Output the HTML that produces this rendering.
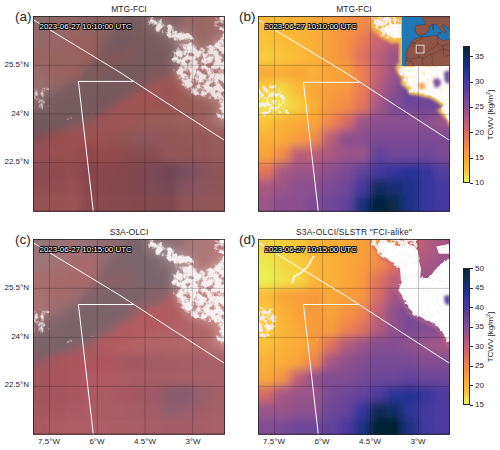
<!DOCTYPE html>
<html><head><meta charset="utf-8">
<style>
html,body{margin:0;padding:0;background:#fff;}
body{width:500px;height:450px;position:relative;overflow:hidden;font-family:"Liberation Sans",sans-serif;color:#262626;}
.t{position:absolute;white-space:nowrap;line-height:1;}
.title{font-size:8.5px;transform:translateX(-50%);}
.lbl{font-size:13.5px;}
.yt{font-size:8px;text-align:right;width:40px;}
.xt{font-size:8px;transform:translateX(-50%);}
.ct{position:absolute;font-size:8px;line-height:1;left:475px;}
.tk{position:absolute;left:470px;width:3px;height:0.8px;background:#262626;}
.pn{position:absolute;overflow:hidden;}
.ts{position:absolute;font-size:7.95px;color:#fff;white-space:nowrap;line-height:1;
 text-shadow:-0.8px 0 0 #000,0.8px 0 0 #000,0 -0.8px 0 #000,0 0.8px 0 #000,-0.8px -0.8px 0 #000,0.8px 0.8px 0 #000,-0.8px 0.8px 0 #000,0.8px -0.8px 0 #000;}
.cb{position:absolute;left:463px;width:7px;box-sizing:border-box;border:0.8px solid #262626;}
.cbl{position:absolute;font-size:8px;line-height:1;white-space:nowrap;transform:translate(-50%,-50%) rotate(-90deg);}
</style></head><body>
<div class="t title" style="left:129px;top:5px">MTG-FCI</div>
<div class="t title" style="left:354px;top:5px">MTG-FCI</div>
<div class="t title" style="left:129px;top:228px">S3A-OLCI</div>
<div class="t title" style="left:354px;top:228px;letter-spacing:0.2px">S3A-OLCI/SLSTR "FCI-alike"</div>
<div class="t lbl" style="left:15px;top:10px">(a)</div>
<div class="t lbl" style="left:239px;top:10px">(b)</div>
<div class="t lbl" style="left:15px;top:233px">(c)</div>
<div class="t lbl" style="left:239px;top:233px">(d)</div>

<div class="t yt" style="left:-11px;top:61px">25.5°N</div>
<div class="t yt" style="left:-11px;top:110px">24°N</div>
<div class="t yt" style="left:-11px;top:158px">22.5°N</div>
<div class="t yt" style="left:-11px;top:284px">25.5°N</div>
<div class="t yt" style="left:-11px;top:333px">24°N</div>
<div class="t yt" style="left:-11px;top:381px">22.5°N</div>
<div class="t xt" style="left:49px;top:438px">7.5°W</div>
<div class="t xt" style="left:97px;top:438px">6°W</div>
<div class="t xt" style="left:145px;top:438px">4.5°W</div>
<div class="t xt" style="left:193px;top:438px">3°W</div>
<div class="t xt" style="left:274px;top:438px">7.5°W</div>
<div class="t xt" style="left:322px;top:438px">6°W</div>
<div class="t xt" style="left:370px;top:438px">4.5°W</div>
<div class="t xt" style="left:418px;top:438px">3°W</div>

<svg class="pn" style="left:33px;top:16px" width="192.0" height="195.5" viewBox="0 0 192.0 195.5"><filter id="fa" x="-20%" y="-20%" width="140%" height="140%"><feGaussianBlur stdDeviation="4.5"/></filter>
<g filter="url(#fa)">
<rect x="-16.00" y="-16.29" width="16.60" height="16.89" fill="#8d6969"/>
<rect x="0.00" y="-16.29" width="16.60" height="16.89" fill="#8d6969"/>
<rect x="16.00" y="-16.29" width="16.60" height="16.89" fill="#8f6767"/>
<rect x="32.00" y="-16.29" width="16.60" height="16.89" fill="#936565"/>
<rect x="48.00" y="-16.29" width="16.60" height="16.89" fill="#896565"/>
<rect x="64.00" y="-16.29" width="16.60" height="16.89" fill="#86625f"/>
<rect x="80.00" y="-16.29" width="16.60" height="16.89" fill="#7e5e60"/>
<rect x="96.00" y="-16.29" width="16.60" height="16.89" fill="#816363"/>
<rect x="112.00" y="-16.29" width="16.60" height="16.89" fill="#896767"/>
<rect x="128.00" y="-16.29" width="16.60" height="16.89" fill="#936969"/>
<rect x="144.00" y="-16.29" width="16.60" height="16.89" fill="#996b6b"/>
<rect x="160.00" y="-16.29" width="16.60" height="16.89" fill="#996763"/>
<rect x="176.00" y="-16.29" width="16.60" height="16.89" fill="#9d6b67"/>
<rect x="192.00" y="-16.29" width="16.60" height="16.89" fill="#9d6b67"/>
<rect x="-16.00" y="0.00" width="16.60" height="16.89" fill="#8d6969"/>
<rect x="0.00" y="0.00" width="16.60" height="16.89" fill="#8d6969"/>
<rect x="16.00" y="0.00" width="16.60" height="16.89" fill="#8f6767"/>
<rect x="32.00" y="0.00" width="16.60" height="16.89" fill="#936565"/>
<rect x="48.00" y="0.00" width="16.60" height="16.89" fill="#896565"/>
<rect x="64.00" y="0.00" width="16.60" height="16.89" fill="#86625f"/>
<rect x="80.00" y="0.00" width="16.60" height="16.89" fill="#7e5e60"/>
<rect x="96.00" y="0.00" width="16.60" height="16.89" fill="#816363"/>
<rect x="112.00" y="0.00" width="16.60" height="16.89" fill="#896767"/>
<rect x="128.00" y="0.00" width="16.60" height="16.89" fill="#936969"/>
<rect x="144.00" y="0.00" width="16.60" height="16.89" fill="#996b6b"/>
<rect x="160.00" y="0.00" width="16.60" height="16.89" fill="#996763"/>
<rect x="176.00" y="0.00" width="16.60" height="16.89" fill="#9d6b67"/>
<rect x="192.00" y="0.00" width="16.60" height="16.89" fill="#9d6b67"/>
<rect x="-16.00" y="16.29" width="16.60" height="16.89" fill="#936767"/>
<rect x="0.00" y="16.29" width="16.60" height="16.89" fill="#936767"/>
<rect x="16.00" y="16.29" width="16.60" height="16.89" fill="#976565"/>
<rect x="32.00" y="16.29" width="16.60" height="16.89" fill="#99615d"/>
<rect x="48.00" y="16.29" width="16.60" height="16.89" fill="#9b5f5b"/>
<rect x="64.00" y="16.29" width="16.60" height="16.89" fill="#84605e"/>
<rect x="80.00" y="16.29" width="16.60" height="16.89" fill="#7c5c5e"/>
<rect x="96.00" y="16.29" width="16.60" height="16.89" fill="#7d5f5f"/>
<rect x="112.00" y="16.29" width="16.60" height="16.89" fill="#816363"/>
<rect x="128.00" y="16.29" width="16.60" height="16.89" fill="#8b6767"/>
<rect x="144.00" y="16.29" width="16.60" height="16.89" fill="#976b6b"/>
<rect x="160.00" y="16.29" width="16.60" height="16.89" fill="#996763"/>
<rect x="176.00" y="16.29" width="16.60" height="16.89" fill="#9d6965"/>
<rect x="192.00" y="16.29" width="16.60" height="16.89" fill="#9d6965"/>
<rect x="-16.00" y="32.58" width="16.60" height="16.89" fill="#996561"/>
<rect x="0.00" y="32.58" width="16.60" height="16.89" fill="#996561"/>
<rect x="16.00" y="32.58" width="16.60" height="16.89" fill="#99635f"/>
<rect x="32.00" y="32.58" width="16.60" height="16.89" fill="#976363"/>
<rect x="48.00" y="32.58" width="16.60" height="16.89" fill="#995f5b"/>
<rect x="64.00" y="32.58" width="16.60" height="16.89" fill="#8a5c5a"/>
<rect x="80.00" y="32.58" width="16.60" height="16.89" fill="#8a5a58"/>
<rect x="96.00" y="32.58" width="16.60" height="16.89" fill="#875f5f"/>
<rect x="112.00" y="32.58" width="16.60" height="16.89" fill="#7d5f5f"/>
<rect x="128.00" y="32.58" width="16.60" height="16.89" fill="#7f6161"/>
<rect x="144.00" y="32.58" width="16.60" height="16.89" fill="#8d6565"/>
<rect x="160.00" y="32.58" width="16.60" height="16.89" fill="#996763"/>
<rect x="176.00" y="32.58" width="16.60" height="16.89" fill="#9b6763"/>
<rect x="192.00" y="32.58" width="16.60" height="16.89" fill="#9b6763"/>
<rect x="-16.00" y="48.88" width="16.60" height="16.89" fill="#996b6b"/>
<rect x="0.00" y="48.88" width="16.60" height="16.89" fill="#996b6b"/>
<rect x="16.00" y="48.88" width="16.60" height="16.89" fill="#99635f"/>
<rect x="32.00" y="48.88" width="16.60" height="16.89" fill="#99615d"/>
<rect x="48.00" y="48.88" width="16.60" height="16.89" fill="#896161"/>
<rect x="64.00" y="48.88" width="16.60" height="16.89" fill="#835f5f"/>
<rect x="80.00" y="48.88" width="16.60" height="16.89" fill="#7d5d5d"/>
<rect x="96.00" y="48.88" width="16.60" height="16.89" fill="#7d5d5d"/>
<rect x="112.00" y="48.88" width="16.60" height="16.89" fill="#8f5b5b"/>
<rect x="128.00" y="48.88" width="16.60" height="16.89" fill="#995955"/>
<rect x="144.00" y="48.88" width="16.60" height="16.89" fill="#995f5b"/>
<rect x="160.00" y="48.88" width="16.60" height="16.89" fill="#99635f"/>
<rect x="176.00" y="48.88" width="16.60" height="16.89" fill="#99635f"/>
<rect x="192.00" y="48.88" width="16.60" height="16.89" fill="#99635f"/>
<rect x="-16.00" y="65.17" width="16.60" height="16.89" fill="#996f6f"/>
<rect x="0.00" y="65.17" width="16.60" height="16.89" fill="#996f6f"/>
<rect x="16.00" y="65.17" width="16.60" height="16.89" fill="#8d6565"/>
<rect x="32.00" y="65.17" width="16.60" height="16.89" fill="#836161"/>
<rect x="48.00" y="65.17" width="16.60" height="16.89" fill="#7d5f5f"/>
<rect x="64.00" y="65.17" width="16.60" height="16.89" fill="#795d5d"/>
<rect x="80.00" y="65.17" width="16.60" height="16.89" fill="#7d5b5b"/>
<rect x="96.00" y="65.17" width="16.60" height="16.89" fill="#995753"/>
<rect x="112.00" y="65.17" width="16.60" height="16.89" fill="#a15955"/>
<rect x="128.00" y="65.17" width="16.60" height="16.89" fill="#9d5753"/>
<rect x="144.00" y="65.17" width="16.60" height="16.89" fill="#995955"/>
<rect x="160.00" y="65.17" width="16.60" height="16.89" fill="#995f5b"/>
<rect x="176.00" y="65.17" width="16.60" height="16.89" fill="#99635f"/>
<rect x="192.00" y="65.17" width="16.60" height="16.89" fill="#99635f"/>
<rect x="-16.00" y="81.46" width="16.60" height="16.89" fill="#8f6b6b"/>
<rect x="0.00" y="81.46" width="16.60" height="16.89" fill="#8f6b6b"/>
<rect x="16.00" y="81.46" width="16.60" height="16.89" fill="#7f6161"/>
<rect x="32.00" y="81.46" width="16.60" height="16.89" fill="#795f5f"/>
<rect x="48.00" y="81.46" width="16.60" height="16.89" fill="#795d5d"/>
<rect x="64.00" y="81.46" width="16.60" height="16.89" fill="#85595b"/>
<rect x="80.00" y="81.46" width="16.60" height="16.89" fill="#995753"/>
<rect x="96.00" y="81.46" width="16.60" height="16.89" fill="#9f5753"/>
<rect x="112.00" y="81.46" width="16.60" height="16.89" fill="#9d5753"/>
<rect x="128.00" y="81.46" width="16.60" height="16.89" fill="#995755"/>
<rect x="144.00" y="81.46" width="16.60" height="16.89" fill="#995b57"/>
<rect x="160.00" y="81.46" width="16.60" height="16.89" fill="#995f5b"/>
<rect x="176.00" y="81.46" width="16.60" height="16.89" fill="#9d615d"/>
<rect x="192.00" y="81.46" width="16.60" height="16.89" fill="#9d615d"/>
<rect x="-16.00" y="97.75" width="16.60" height="16.89" fill="#735b5d"/>
<rect x="0.00" y="97.75" width="16.60" height="16.89" fill="#735b5d"/>
<rect x="16.00" y="97.75" width="16.60" height="16.89" fill="#795b5d"/>
<rect x="32.00" y="97.75" width="16.60" height="16.89" fill="#7d5d5f"/>
<rect x="48.00" y="97.75" width="16.60" height="16.89" fill="#83595b"/>
<rect x="64.00" y="97.75" width="16.60" height="16.89" fill="#995753"/>
<rect x="80.00" y="97.75" width="16.60" height="16.89" fill="#9d5955"/>
<rect x="96.00" y="97.75" width="16.60" height="16.89" fill="#995955"/>
<rect x="112.00" y="97.75" width="16.60" height="16.89" fill="#995b57"/>
<rect x="128.00" y="97.75" width="16.60" height="16.89" fill="#995d59"/>
<rect x="144.00" y="97.75" width="16.60" height="16.89" fill="#9b5f5b"/>
<rect x="160.00" y="97.75" width="16.60" height="16.89" fill="#9d615d"/>
<rect x="176.00" y="97.75" width="16.60" height="16.89" fill="#a16965"/>
<rect x="192.00" y="97.75" width="16.60" height="16.89" fill="#a16965"/>
<rect x="-16.00" y="114.04" width="16.60" height="16.89" fill="#824f55"/>
<rect x="0.00" y="114.04" width="16.60" height="16.89" fill="#824f55"/>
<rect x="16.00" y="114.04" width="16.60" height="16.89" fill="#924d4d"/>
<rect x="32.00" y="114.04" width="16.60" height="16.89" fill="#9a4f4f"/>
<rect x="48.00" y="114.04" width="16.60" height="16.89" fill="#9c4f4f"/>
<rect x="64.00" y="114.04" width="16.60" height="16.89" fill="#985151"/>
<rect x="80.00" y="114.04" width="16.60" height="16.89" fill="#925353"/>
<rect x="96.00" y="114.04" width="16.60" height="16.89" fill="#8e575d"/>
<rect x="112.00" y="114.04" width="16.60" height="16.89" fill="#90575d"/>
<rect x="128.00" y="114.04" width="16.60" height="16.89" fill="#925757"/>
<rect x="144.00" y="114.04" width="16.60" height="16.89" fill="#925959"/>
<rect x="160.00" y="114.04" width="16.60" height="16.89" fill="#945959"/>
<rect x="176.00" y="114.04" width="16.60" height="16.89" fill="#965b5b"/>
<rect x="192.00" y="114.04" width="16.60" height="16.89" fill="#965b5b"/>
<rect x="-16.00" y="130.33" width="16.60" height="16.89" fill="#8c4f55"/>
<rect x="0.00" y="130.33" width="16.60" height="16.89" fill="#8c4f55"/>
<rect x="16.00" y="130.33" width="16.60" height="16.89" fill="#964f4f"/>
<rect x="32.00" y="130.33" width="16.60" height="16.89" fill="#984f51"/>
<rect x="48.00" y="130.33" width="16.60" height="16.89" fill="#92474b"/>
<rect x="64.00" y="130.33" width="16.60" height="16.89" fill="#964b4d"/>
<rect x="80.00" y="130.33" width="16.60" height="16.89" fill="#904b4d"/>
<rect x="96.00" y="130.33" width="16.60" height="16.89" fill="#884d51"/>
<rect x="112.00" y="130.33" width="16.60" height="16.89" fill="#884d51"/>
<rect x="128.00" y="130.33" width="16.60" height="16.89" fill="#925759"/>
<rect x="144.00" y="130.33" width="16.60" height="16.89" fill="#925759"/>
<rect x="160.00" y="130.33" width="16.60" height="16.89" fill="#945959"/>
<rect x="176.00" y="130.33" width="16.60" height="16.89" fill="#965b5b"/>
<rect x="192.00" y="130.33" width="16.60" height="16.89" fill="#965b5b"/>
<rect x="-16.00" y="146.62" width="16.60" height="16.89" fill="#8a4d55"/>
<rect x="0.00" y="146.62" width="16.60" height="16.89" fill="#8a4d55"/>
<rect x="16.00" y="146.62" width="16.60" height="16.89" fill="#8e4b4f"/>
<rect x="32.00" y="146.62" width="16.60" height="16.89" fill="#924d51"/>
<rect x="48.00" y="146.62" width="16.60" height="16.89" fill="#86454b"/>
<rect x="64.00" y="146.62" width="16.60" height="16.89" fill="#88474d"/>
<rect x="80.00" y="146.62" width="16.60" height="16.89" fill="#84474d"/>
<rect x="96.00" y="146.62" width="16.60" height="16.89" fill="#80474f"/>
<rect x="112.00" y="146.62" width="16.60" height="16.89" fill="#7c4957"/>
<rect x="128.00" y="146.62" width="16.60" height="16.89" fill="#704555"/>
<rect x="144.00" y="146.62" width="16.60" height="16.89" fill="#784f5f"/>
<rect x="160.00" y="146.62" width="16.60" height="16.89" fill="#84535d"/>
<rect x="176.00" y="146.62" width="16.60" height="16.89" fill="#8e5357"/>
<rect x="192.00" y="146.62" width="16.60" height="16.89" fill="#8e5357"/>
<rect x="-16.00" y="162.92" width="16.60" height="16.89" fill="#904d51"/>
<rect x="0.00" y="162.92" width="16.60" height="16.89" fill="#904d51"/>
<rect x="16.00" y="162.92" width="16.60" height="16.89" fill="#924d51"/>
<rect x="32.00" y="162.92" width="16.60" height="16.89" fill="#964f53"/>
<rect x="48.00" y="162.92" width="16.60" height="16.89" fill="#8a474d"/>
<rect x="64.00" y="162.92" width="16.60" height="16.89" fill="#86474d"/>
<rect x="80.00" y="162.92" width="16.60" height="16.89" fill="#84474d"/>
<rect x="96.00" y="162.92" width="16.60" height="16.89" fill="#80474f"/>
<rect x="112.00" y="162.92" width="16.60" height="16.89" fill="#7c4957"/>
<rect x="128.00" y="162.92" width="16.60" height="16.89" fill="#744957"/>
<rect x="144.00" y="162.92" width="16.60" height="16.89" fill="#84535f"/>
<rect x="160.00" y="162.92" width="16.60" height="16.89" fill="#8a555f"/>
<rect x="176.00" y="162.92" width="16.60" height="16.89" fill="#8e5559"/>
<rect x="192.00" y="162.92" width="16.60" height="16.89" fill="#8e5559"/>
<rect x="-16.00" y="179.21" width="16.60" height="16.89" fill="#965153"/>
<rect x="0.00" y="179.21" width="16.60" height="16.89" fill="#965153"/>
<rect x="16.00" y="179.21" width="16.60" height="16.89" fill="#985153"/>
<rect x="32.00" y="179.21" width="16.60" height="16.89" fill="#9a5355"/>
<rect x="48.00" y="179.21" width="16.60" height="16.89" fill="#8a494f"/>
<rect x="64.00" y="179.21" width="16.60" height="16.89" fill="#88494f"/>
<rect x="80.00" y="179.21" width="16.60" height="16.89" fill="#86494f"/>
<rect x="96.00" y="179.21" width="16.60" height="16.89" fill="#84494f"/>
<rect x="112.00" y="179.21" width="16.60" height="16.89" fill="#82494f"/>
<rect x="128.00" y="179.21" width="16.60" height="16.89" fill="#80494f"/>
<rect x="144.00" y="179.21" width="16.60" height="16.89" fill="#8e5357"/>
<rect x="160.00" y="179.21" width="16.60" height="16.89" fill="#905559"/>
<rect x="176.00" y="179.21" width="16.60" height="16.89" fill="#925759"/>
<rect x="192.00" y="179.21" width="16.60" height="16.89" fill="#925759"/>
<rect x="-16.00" y="195.50" width="16.60" height="16.89" fill="#965153"/>
<rect x="0.00" y="195.50" width="16.60" height="16.89" fill="#965153"/>
<rect x="16.00" y="195.50" width="16.60" height="16.89" fill="#985153"/>
<rect x="32.00" y="195.50" width="16.60" height="16.89" fill="#9a5355"/>
<rect x="48.00" y="195.50" width="16.60" height="16.89" fill="#8a494f"/>
<rect x="64.00" y="195.50" width="16.60" height="16.89" fill="#88494f"/>
<rect x="80.00" y="195.50" width="16.60" height="16.89" fill="#86494f"/>
<rect x="96.00" y="195.50" width="16.60" height="16.89" fill="#84494f"/>
<rect x="112.00" y="195.50" width="16.60" height="16.89" fill="#82494f"/>
<rect x="128.00" y="195.50" width="16.60" height="16.89" fill="#80494f"/>
<rect x="144.00" y="195.50" width="16.60" height="16.89" fill="#8e5357"/>
<rect x="160.00" y="195.50" width="16.60" height="16.89" fill="#905559"/>
<rect x="176.00" y="195.50" width="16.60" height="16.89" fill="#925759"/>
<rect x="192.00" y="195.50" width="16.60" height="16.89" fill="#925759"/>
</g><filter id="bda" x="-20%" y="-20%" width="140%" height="140%"><feGaussianBlur stdDeviation="3"/></filter><g filter="url(#bda)"><polygon points="0,84 25,76 45,64 60,44 75,24 88,8 95,-2 150,-2 145,15 142,30 150,40 143,56 120,68 100,78 80,90 60,100 30,112 0,124" fill="#6e585c" fill-opacity="0.5"/><polygon points="58,60 80,40 100,26 118,14 123,19 104,33 84,47 62,65" fill="#925250" fill-opacity="0.25"/><polygon points="0,126 30,114 60,102 80,92 100,80 120,70 143,58 160,50 185,42 190,55 150,78 120,93 60,122 30,136 0,150" fill="#a05054" fill-opacity="0.4"/></g><filter id="cla" x="-5%" y="-5%" width="110%" height="110%"><feGaussianBlur stdDeviation="0.6"/></filter>
<filter id="spa1" filterUnits="userSpaceOnUse" x="0" y="0" width="192" height="196" color-interpolation-filters="sRGB"><feTurbulence type="fractalNoise" baseFrequency="0.17" numOctaves="3" seed="3" result="n0"/><feColorMatrix in="n0" type="matrix" values="0 0 0 0 1 0 0 0 0 1 0 0 0 0 1 1 0 0 0 0" result="n"/><feGaussianBlur in="SourceGraphic" stdDeviation="2.5" result="m"/><feComposite in="n" in2="m" operator="arithmetic" k1="0" k2="1" k3="1" k4="-1" result="s"/><feComponentTransfer in="s" result="t"><feFuncA type="linear" slope="4.5" intercept="-2.453"/></feComponentTransfer><feColorMatrix in="t" type="matrix" values="0 0 0 0 0.97 0 0 0 0 0.94 0 0 0 0 0.94 0 0 0 1 0" result="w"/><feGaussianBlur in="w" stdDeviation="0.7"/></filter>
<filter id="spa2" filterUnits="userSpaceOnUse" x="0" y="0" width="192" height="196" color-interpolation-filters="sRGB"><feTurbulence type="fractalNoise" baseFrequency="0.17" numOctaves="3" seed="3" result="n0"/><feColorMatrix in="n0" type="matrix" values="0 0 0 0 1 0 0 0 0 1 0 0 0 0 1 1 0 0 0 0" result="n"/><feGaussianBlur in="SourceGraphic" stdDeviation="2.5" result="m"/><feComposite in="n" in2="m" operator="arithmetic" k1="0" k2="1" k3="1" k4="-1" result="s"/><feComponentTransfer in="s" result="t"><feFuncA type="linear" slope="4.5" intercept="-2.312"/></feComponentTransfer><feColorMatrix in="t" type="matrix" values="0 0 0 0 0.97 0 0 0 0 0.94 0 0 0 0 0.94 0 0 0 1 0" result="w"/><feGaussianBlur in="w" stdDeviation="0.7"/></filter>
<filter id="spa3" filterUnits="userSpaceOnUse" x="0" y="0" width="192" height="196" color-interpolation-filters="sRGB"><feTurbulence type="fractalNoise" baseFrequency="0.17" numOctaves="3" seed="3" result="n0"/><feColorMatrix in="n0" type="matrix" values="0 0 0 0 1 0 0 0 0 1 0 0 0 0 1 1 0 0 0 0" result="n"/><feGaussianBlur in="SourceGraphic" stdDeviation="2.5" result="m"/><feComposite in="n" in2="m" operator="arithmetic" k1="0" k2="1" k3="1" k4="-1" result="s"/><feComponentTransfer in="s" result="t"><feFuncA type="linear" slope="4.5" intercept="-2.172"/></feComponentTransfer><feColorMatrix in="t" type="matrix" values="0 0 0 0 0.97 0 0 0 0 0.94 0 0 0 0 0.94 0 0 0 1 0" result="w"/><feGaussianBlur in="w" stdDeviation="0.7"/></filter>
<filter id="spa4" filterUnits="userSpaceOnUse" x="0" y="0" width="192" height="196" color-interpolation-filters="sRGB"><feTurbulence type="fractalNoise" baseFrequency="0.17" numOctaves="3" seed="3" result="n0"/><feColorMatrix in="n0" type="matrix" values="0 0 0 0 1 0 0 0 0 1 0 0 0 0 1 1 0 0 0 0" result="n"/><feGaussianBlur in="SourceGraphic" stdDeviation="2.5" result="m"/><feComposite in="n" in2="m" operator="arithmetic" k1="0" k2="1" k3="1" k4="-1" result="s"/><feComponentTransfer in="s" result="t"><feFuncA type="linear" slope="4.5" intercept="-2.031"/></feComponentTransfer><feColorMatrix in="t" type="matrix" values="0 0 0 0 0.97 0 0 0 0 0.94 0 0 0 0 0.94 0 0 0 1 0" result="w"/><feGaussianBlur in="w" stdDeviation="0.7"/></filter>
<filter id="spa5" filterUnits="userSpaceOnUse" x="0" y="0" width="192" height="196" color-interpolation-filters="sRGB"><feTurbulence type="fractalNoise" baseFrequency="0.17" numOctaves="3" seed="3" result="n0"/><feColorMatrix in="n0" type="matrix" values="0 0 0 0 1 0 0 0 0 1 0 0 0 0 1 1 0 0 0 0" result="n"/><feGaussianBlur in="SourceGraphic" stdDeviation="2.5" result="m"/><feComposite in="n" in2="m" operator="arithmetic" k1="0" k2="1" k3="1" k4="-1" result="s"/><feComponentTransfer in="s" result="t"><feFuncA type="linear" slope="4.5" intercept="-1.891"/></feComponentTransfer><feColorMatrix in="t" type="matrix" values="0 0 0 0 0.97 0 0 0 0 0.94 0 0 0 0 0.94 0 0 0 1 0" result="w"/><feGaussianBlur in="w" stdDeviation="0.7"/></filter>
<filter id="spa6" filterUnits="userSpaceOnUse" x="0" y="0" width="192" height="196" color-interpolation-filters="sRGB"><feTurbulence type="fractalNoise" baseFrequency="0.17" numOctaves="3" seed="3" result="n0"/><feColorMatrix in="n0" type="matrix" values="0 0 0 0 1 0 0 0 0 1 0 0 0 0 1 1 0 0 0 0" result="n"/><feGaussianBlur in="SourceGraphic" stdDeviation="2.5" result="m"/><feComposite in="n" in2="m" operator="arithmetic" k1="0" k2="1" k3="1" k4="-1" result="s"/><feComponentTransfer in="s" result="t"><feFuncA type="linear" slope="4.5" intercept="-1.750"/></feComponentTransfer><feColorMatrix in="t" type="matrix" values="0 0 0 0 0.97 0 0 0 0 0.94 0 0 0 0 0.94 0 0 0 1 0" result="w"/><feGaussianBlur in="w" stdDeviation="0.7"/></filter>
<filter id="spa7" filterUnits="userSpaceOnUse" x="0" y="0" width="192" height="196" color-interpolation-filters="sRGB"><feTurbulence type="fractalNoise" baseFrequency="0.17" numOctaves="3" seed="3" result="n0"/><feColorMatrix in="n0" type="matrix" values="0 0 0 0 1 0 0 0 0 1 0 0 0 0 1 1 0 0 0 0" result="n"/><feGaussianBlur in="SourceGraphic" stdDeviation="2.5" result="m"/><feComposite in="n" in2="m" operator="arithmetic" k1="0" k2="1" k3="1" k4="-1" result="s"/><feComponentTransfer in="s" result="t"><feFuncA type="linear" slope="4.5" intercept="-1.609"/></feComponentTransfer><feColorMatrix in="t" type="matrix" values="0 0 0 0 0.97 0 0 0 0 0.94 0 0 0 0 0.94 0 0 0 1 0" result="w"/><feGaussianBlur in="w" stdDeviation="0.7"/></filter>
<filter id="spa8" filterUnits="userSpaceOnUse" x="0" y="0" width="192" height="196" color-interpolation-filters="sRGB"><feTurbulence type="fractalNoise" baseFrequency="0.17" numOctaves="3" seed="3" result="n0"/><feColorMatrix in="n0" type="matrix" values="0 0 0 0 1 0 0 0 0 1 0 0 0 0 1 1 0 0 0 0" result="n"/><feGaussianBlur in="SourceGraphic" stdDeviation="2.5" result="m"/><feComposite in="n" in2="m" operator="arithmetic" k1="0" k2="1" k3="1" k4="-1" result="s"/><feComponentTransfer in="s" result="t"><feFuncA type="linear" slope="4.5" intercept="-1.469"/></feComponentTransfer><feColorMatrix in="t" type="matrix" values="0 0 0 0 0.97 0 0 0 0 0.94 0 0 0 0 0.94 0 0 0 1 0" result="w"/><feGaussianBlur in="w" stdDeviation="0.7"/></filter>
<filter id="spa9" filterUnits="userSpaceOnUse" x="0" y="0" width="192" height="196" color-interpolation-filters="sRGB"><feTurbulence type="fractalNoise" baseFrequency="0.17" numOctaves="3" seed="3" result="n0"/><feColorMatrix in="n0" type="matrix" values="0 0 0 0 1 0 0 0 0 1 0 0 0 0 1 1 0 0 0 0" result="n"/><feGaussianBlur in="SourceGraphic" stdDeviation="2.5" result="m"/><feComposite in="n" in2="m" operator="arithmetic" k1="0" k2="1" k3="1" k4="-1" result="s"/><feComponentTransfer in="s" result="t"><feFuncA type="linear" slope="4.5" intercept="-1.328"/></feComponentTransfer><feColorMatrix in="t" type="matrix" values="0 0 0 0 0.97 0 0 0 0 0.94 0 0 0 0 0.94 0 0 0 1 0" result="w"/><feGaussianBlur in="w" stdDeviation="0.7"/></filter>
<filter id="spa10" filterUnits="userSpaceOnUse" x="0" y="0" width="192" height="196" color-interpolation-filters="sRGB"><feTurbulence type="fractalNoise" baseFrequency="0.17" numOctaves="3" seed="3" result="n0"/><feColorMatrix in="n0" type="matrix" values="0 0 0 0 1 0 0 0 0 1 0 0 0 0 1 1 0 0 0 0" result="n"/><feGaussianBlur in="SourceGraphic" stdDeviation="2.5" result="m"/><feComposite in="n" in2="m" operator="arithmetic" k1="0" k2="1" k3="1" k4="-1" result="s"/><feComponentTransfer in="s" result="t"><feFuncA type="linear" slope="4.5" intercept="-1.188"/></feComponentTransfer><feColorMatrix in="t" type="matrix" values="0 0 0 0 0.97 0 0 0 0 0.94 0 0 0 0 0.94 0 0 0 1 0" result="w"/><feGaussianBlur in="w" stdDeviation="0.7"/></filter>
<filter id="hza" x="-20%" y="-20%" width="140%" height="140%"><feGaussianBlur stdDeviation="4"/></filter>
<filter id="hzaf" x="-20%" y="-20%" width="140%" height="140%"><feGaussianBlur stdDeviation="1.5"/></filter>
<filter id="hza" x="-20%" y="-20%" width="140%" height="140%"><feGaussianBlur stdDeviation="4"/></filter>
<polygon points="138.2,33.3 149.2,28.9 162.4,31.1 173.4,28.9 184.4,20.1 194.3,13.5 198.7,13.5 198.7,112.5 189.9,109.2 184.4,103.7 180.0,98.2 184.4,92.7 181.1,88.3 173.4,83.9 165.7,81.7 154.7,78.4 150.3,75.1 143.7,64.1 140.4,57.5 138.2,48.7" fill="#fff" fill-opacity="0.18" filter="url(#hza)"/>
<polygon points="113.9,-2.6 125.4,2.0 136.9,6.6 148.4,13.5 159.9,18.1 163.3,27.3 159.9,36.5 150.7,37.6 143.8,29.6 134.6,22.7 125.4,18.1 116.2,11.2 113.9,6.6" fill="#fff" fill-opacity="0.15" filter="url(#hza)"/>
<g filter="url(#spa8)" opacity="0.9"><polygon points="111.8,-4.4 124.3,0.6 136.8,5.6 149.3,13.1 161.8,18.1 165.5,28.1 161.8,38.1 151.8,39.4 144.3,30.6 134.3,23.1 124.3,18.1 114.3,10.6 111.8,5.6" fill="#fff"/></g>
<g filter="url(#spa8)" opacity="0.9"><polygon points="137.6,32.7 148.8,28.3 162.2,30.5 173.4,28.3 184.7,19.3 194.7,12.6 199.2,12.6 199.2,113.4 190.2,110.0 184.7,104.4 180.2,98.8 184.7,93.2 181.3,88.7 173.4,84.3 165.6,82.0 154.4,78.7 149.9,75.3 143.2,64.1 139.8,57.4 137.6,48.4" fill="#fff"/></g>
<g filter="url(#spa7)" opacity="0.9"><polygon points="177,-3 196,-3 196,18 180,16" fill="#fff"/></g>
<g filter="url(#spa2)" opacity="0.75"><polygon points="-3,66 13,66 22,75 20,90 11,99 -3,98" fill="#fff"/></g>
<g filter="url(#spa6)" opacity="0.85"><polygon points="30,99 41,98 42,106 31,107" fill="#fff"/></g>
<g filter="url(#spa6)" opacity="0.8"><polygon points="56,94 62,94 63,104 56,104" fill="#fff"/></g><line x1="16.5" y1="0" x2="16.5" y2="195.5" stroke="#000" stroke-opacity="0.27" stroke-width="0.8"/>
<line x1="64.35" y1="0" x2="64.35" y2="195.5" stroke="#000" stroke-opacity="0.27" stroke-width="0.8"/>
<line x1="112.05" y1="0" x2="112.05" y2="195.5" stroke="#000" stroke-opacity="0.27" stroke-width="0.8"/>
<line x1="159.7" y1="0" x2="159.7" y2="195.5" stroke="#000" stroke-opacity="0.27" stroke-width="0.8"/>
<line x1="0" y1="49.4" x2="192.0" y2="49.4" stroke="#000" stroke-opacity="0.27" stroke-width="0.8"/>
<line x1="0" y1="98.0" x2="192.0" y2="98.0" stroke="#000" stroke-opacity="0.27" stroke-width="0.8"/>
<line x1="0" y1="146.6" x2="192.0" y2="146.6" stroke="#000" stroke-opacity="0.27" stroke-width="0.8"/>
<polyline points="0,3.6 27,20 87,56.4 142,92.3 192,124.6" fill="none" stroke="#fff" stroke-width="1"/>
<polyline points="60.3,195.5 45.4,65.4 100.2,65.4" fill="none" stroke="#fff" stroke-width="1"/>
<rect x="0.4" y="0.4" width="191.2" height="194.7" fill="none" stroke="#222" stroke-width="0.8"/></svg>
<svg class="pn" style="left:258px;top:16px" width="192.0" height="195.5" viewBox="0 0 192.0 195.5"><filter id="fb" x="-20%" y="-20%" width="140%" height="140%"><feGaussianBlur stdDeviation="5"/></filter>
<g filter="url(#fb)">
<rect x="-16.00" y="-16.29" width="16.60" height="16.89" fill="#fabc37"/>
<rect x="0.00" y="-16.29" width="16.60" height="16.89" fill="#fabc37"/>
<rect x="16.00" y="-16.29" width="16.60" height="16.89" fill="#fab637"/>
<rect x="32.00" y="-16.29" width="16.60" height="16.89" fill="#fab037"/>
<rect x="48.00" y="-16.29" width="16.60" height="16.89" fill="#faaa37"/>
<rect x="64.00" y="-16.29" width="16.60" height="16.89" fill="#f89e3c"/>
<rect x="80.00" y="-16.29" width="16.60" height="16.89" fill="#f49143"/>
<rect x="96.00" y="-16.29" width="16.60" height="16.89" fill="#f28b47"/>
<rect x="112.00" y="-16.29" width="16.60" height="16.89" fill="#e47559"/>
<rect x="128.00" y="-16.29" width="16.60" height="16.89" fill="#d86c64"/>
<rect x="144.00" y="-16.29" width="16.60" height="16.89" fill="#ba5e78"/>
<rect x="160.00" y="-16.29" width="16.60" height="16.89" fill="#ba5e78"/>
<rect x="176.00" y="-16.29" width="16.60" height="16.89" fill="#ba5e78"/>
<rect x="192.00" y="-16.29" width="16.60" height="16.89" fill="#ba5e78"/>
<rect x="-16.00" y="0.00" width="16.60" height="16.89" fill="#fabc37"/>
<rect x="0.00" y="0.00" width="16.60" height="16.89" fill="#fabc37"/>
<rect x="16.00" y="0.00" width="16.60" height="16.89" fill="#fab637"/>
<rect x="32.00" y="0.00" width="16.60" height="16.89" fill="#fab037"/>
<rect x="48.00" y="0.00" width="16.60" height="16.89" fill="#faaa37"/>
<rect x="64.00" y="0.00" width="16.60" height="16.89" fill="#f89e3c"/>
<rect x="80.00" y="0.00" width="16.60" height="16.89" fill="#f49143"/>
<rect x="96.00" y="0.00" width="16.60" height="16.89" fill="#f28b47"/>
<rect x="112.00" y="0.00" width="16.60" height="16.89" fill="#e47559"/>
<rect x="128.00" y="0.00" width="16.60" height="16.89" fill="#d86c64"/>
<rect x="144.00" y="0.00" width="16.60" height="16.89" fill="#ba5e78"/>
<rect x="160.00" y="0.00" width="16.60" height="16.89" fill="#ba5e78"/>
<rect x="176.00" y="0.00" width="16.60" height="16.89" fill="#ba5e78"/>
<rect x="192.00" y="0.00" width="16.60" height="16.89" fill="#ba5e78"/>
<rect x="-16.00" y="16.29" width="16.60" height="16.89" fill="#fac237"/>
<rect x="0.00" y="16.29" width="16.60" height="16.89" fill="#fac237"/>
<rect x="16.00" y="16.29" width="16.60" height="16.89" fill="#fabc37"/>
<rect x="32.00" y="16.29" width="16.60" height="16.89" fill="#fab637"/>
<rect x="48.00" y="16.29" width="16.60" height="16.89" fill="#fab037"/>
<rect x="64.00" y="16.29" width="16.60" height="16.89" fill="#f89e3c"/>
<rect x="80.00" y="16.29" width="16.60" height="16.89" fill="#f49143"/>
<rect x="96.00" y="16.29" width="16.60" height="16.89" fill="#ea7a54"/>
<rect x="112.00" y="16.29" width="16.60" height="16.89" fill="#cb636f"/>
<rect x="128.00" y="16.29" width="16.60" height="16.89" fill="#ba5e78"/>
<rect x="144.00" y="16.29" width="16.60" height="16.89" fill="#aa5881"/>
<rect x="160.00" y="16.29" width="16.60" height="16.89" fill="#aa5881"/>
<rect x="176.00" y="16.29" width="16.60" height="16.89" fill="#aa5881"/>
<rect x="192.00" y="16.29" width="16.60" height="16.89" fill="#aa5881"/>
<rect x="-16.00" y="32.58" width="16.60" height="16.89" fill="#f7cd3e"/>
<rect x="0.00" y="32.58" width="16.60" height="16.89" fill="#f7cd3e"/>
<rect x="16.00" y="32.58" width="16.60" height="16.89" fill="#fac237"/>
<rect x="32.00" y="32.58" width="16.60" height="16.89" fill="#fabc37"/>
<rect x="48.00" y="32.58" width="16.60" height="16.89" fill="#fab037"/>
<rect x="64.00" y="32.58" width="16.60" height="16.89" fill="#f89e3c"/>
<rect x="80.00" y="32.58" width="16.60" height="16.89" fill="#f49143"/>
<rect x="96.00" y="32.58" width="16.60" height="16.89" fill="#de715f"/>
<rect x="112.00" y="32.58" width="16.60" height="16.89" fill="#ba5e78"/>
<rect x="128.00" y="32.58" width="16.60" height="16.89" fill="#9a5489"/>
<rect x="144.00" y="32.58" width="16.60" height="16.89" fill="#9a5489"/>
<rect x="160.00" y="32.58" width="16.60" height="16.89" fill="#9a5489"/>
<rect x="176.00" y="32.58" width="16.60" height="16.89" fill="#9a5489"/>
<rect x="192.00" y="32.58" width="16.60" height="16.89" fill="#9a5489"/>
<rect x="-16.00" y="48.88" width="16.60" height="16.89" fill="#faaa37"/>
<rect x="0.00" y="48.88" width="16.60" height="16.89" fill="#faaa37"/>
<rect x="16.00" y="48.88" width="16.60" height="16.89" fill="#faaa37"/>
<rect x="32.00" y="48.88" width="16.60" height="16.89" fill="#faa438"/>
<rect x="48.00" y="48.88" width="16.60" height="16.89" fill="#fab037"/>
<rect x="64.00" y="48.88" width="16.60" height="16.89" fill="#faa438"/>
<rect x="80.00" y="48.88" width="16.60" height="16.89" fill="#f89e3c"/>
<rect x="96.00" y="48.88" width="16.60" height="16.89" fill="#ef7f4f"/>
<rect x="112.00" y="48.88" width="16.60" height="16.89" fill="#c36174"/>
<rect x="128.00" y="48.88" width="16.60" height="16.89" fill="#9a5489"/>
<rect x="144.00" y="48.88" width="16.60" height="16.89" fill="#7d4c94"/>
<rect x="160.00" y="48.88" width="16.60" height="16.89" fill="#7d4c94"/>
<rect x="176.00" y="48.88" width="16.60" height="16.89" fill="#7d4c94"/>
<rect x="192.00" y="48.88" width="16.60" height="16.89" fill="#7d4c94"/>
<rect x="-16.00" y="65.17" width="16.60" height="16.89" fill="#f7cd3e"/>
<rect x="0.00" y="65.17" width="16.60" height="16.89" fill="#f7cd3e"/>
<rect x="16.00" y="65.17" width="16.60" height="16.89" fill="#f3d845"/>
<rect x="32.00" y="65.17" width="16.60" height="16.89" fill="#fabc37"/>
<rect x="48.00" y="65.17" width="16.60" height="16.89" fill="#faa438"/>
<rect x="64.00" y="65.17" width="16.60" height="16.89" fill="#f89e3c"/>
<rect x="80.00" y="65.17" width="16.60" height="16.89" fill="#f6973f"/>
<rect x="96.00" y="65.17" width="16.60" height="16.89" fill="#ea7a54"/>
<rect x="112.00" y="65.17" width="16.60" height="16.89" fill="#b25b7d"/>
<rect x="128.00" y="65.17" width="16.60" height="16.89" fill="#8b508f"/>
<rect x="144.00" y="65.17" width="16.60" height="16.89" fill="#61429b"/>
<rect x="160.00" y="65.17" width="16.60" height="16.89" fill="#6f4798"/>
<rect x="176.00" y="65.17" width="16.60" height="16.89" fill="#6f4798"/>
<rect x="192.00" y="65.17" width="16.60" height="16.89" fill="#6f4798"/>
<rect x="-16.00" y="81.46" width="16.60" height="16.89" fill="#efe44c"/>
<rect x="0.00" y="81.46" width="16.60" height="16.89" fill="#efe44c"/>
<rect x="16.00" y="81.46" width="16.60" height="16.89" fill="#efe44c"/>
<rect x="32.00" y="81.46" width="16.60" height="16.89" fill="#f7cd3e"/>
<rect x="48.00" y="81.46" width="16.60" height="16.89" fill="#faaa37"/>
<rect x="64.00" y="81.46" width="16.60" height="16.89" fill="#f6973f"/>
<rect x="80.00" y="81.46" width="16.60" height="16.89" fill="#f28b47"/>
<rect x="96.00" y="81.46" width="16.60" height="16.89" fill="#e47559"/>
<rect x="112.00" y="81.46" width="16.60" height="16.89" fill="#a25686"/>
<rect x="128.00" y="81.46" width="16.60" height="16.89" fill="#7d4c94"/>
<rect x="144.00" y="81.46" width="16.60" height="16.89" fill="#6f4798"/>
<rect x="160.00" y="81.46" width="16.60" height="16.89" fill="#6f4798"/>
<rect x="176.00" y="81.46" width="16.60" height="16.89" fill="#6f4798"/>
<rect x="192.00" y="81.46" width="16.60" height="16.89" fill="#6f4798"/>
<rect x="-16.00" y="97.75" width="16.60" height="16.89" fill="#fac237"/>
<rect x="0.00" y="97.75" width="16.60" height="16.89" fill="#fac237"/>
<rect x="16.00" y="97.75" width="16.60" height="16.89" fill="#fab037"/>
<rect x="32.00" y="97.75" width="16.60" height="16.89" fill="#faaa37"/>
<rect x="48.00" y="97.75" width="16.60" height="16.89" fill="#faa438"/>
<rect x="64.00" y="97.75" width="16.60" height="16.89" fill="#f0854b"/>
<rect x="80.00" y="97.75" width="16.60" height="16.89" fill="#d86c64"/>
<rect x="96.00" y="97.75" width="16.60" height="16.89" fill="#9a5489"/>
<rect x="112.00" y="97.75" width="16.60" height="16.89" fill="#8b508f"/>
<rect x="128.00" y="97.75" width="16.60" height="16.89" fill="#8b508f"/>
<rect x="144.00" y="97.75" width="16.60" height="16.89" fill="#8b508f"/>
<rect x="160.00" y="97.75" width="16.60" height="16.89" fill="#8b508f"/>
<rect x="176.00" y="97.75" width="16.60" height="16.89" fill="#9a5489"/>
<rect x="192.00" y="97.75" width="16.60" height="16.89" fill="#9a5489"/>
<rect x="-16.00" y="114.04" width="16.60" height="16.89" fill="#fab037"/>
<rect x="0.00" y="114.04" width="16.60" height="16.89" fill="#fab037"/>
<rect x="16.00" y="114.04" width="16.60" height="16.89" fill="#faaa37"/>
<rect x="32.00" y="114.04" width="16.60" height="16.89" fill="#f89e3c"/>
<rect x="48.00" y="114.04" width="16.60" height="16.89" fill="#f28b47"/>
<rect x="64.00" y="114.04" width="16.60" height="16.89" fill="#ba5e78"/>
<rect x="80.00" y="114.04" width="16.60" height="16.89" fill="#8b508f"/>
<rect x="96.00" y="114.04" width="16.60" height="16.89" fill="#8b508f"/>
<rect x="112.00" y="114.04" width="16.60" height="16.89" fill="#7d4c94"/>
<rect x="128.00" y="114.04" width="16.60" height="16.89" fill="#7d4c94"/>
<rect x="144.00" y="114.04" width="16.60" height="16.89" fill="#7d4c94"/>
<rect x="160.00" y="114.04" width="16.60" height="16.89" fill="#7d4c94"/>
<rect x="176.00" y="114.04" width="16.60" height="16.89" fill="#7d4c94"/>
<rect x="192.00" y="114.04" width="16.60" height="16.89" fill="#7d4c94"/>
<rect x="-16.00" y="130.33" width="16.60" height="16.89" fill="#faa438"/>
<rect x="0.00" y="130.33" width="16.60" height="16.89" fill="#faa438"/>
<rect x="16.00" y="130.33" width="16.60" height="16.89" fill="#f28b47"/>
<rect x="32.00" y="130.33" width="16.60" height="16.89" fill="#ba5e78"/>
<rect x="48.00" y="130.33" width="16.60" height="16.89" fill="#ba5e78"/>
<rect x="64.00" y="130.33" width="16.60" height="16.89" fill="#aa5881"/>
<rect x="80.00" y="130.33" width="16.60" height="16.89" fill="#9a5489"/>
<rect x="96.00" y="130.33" width="16.60" height="16.89" fill="#9a5489"/>
<rect x="112.00" y="130.33" width="16.60" height="16.89" fill="#61429b"/>
<rect x="128.00" y="130.33" width="16.60" height="16.89" fill="#6f4798"/>
<rect x="144.00" y="130.33" width="16.60" height="16.89" fill="#6f4798"/>
<rect x="160.00" y="130.33" width="16.60" height="16.89" fill="#6f4798"/>
<rect x="176.00" y="130.33" width="16.60" height="16.89" fill="#7d4c94"/>
<rect x="192.00" y="130.33" width="16.60" height="16.89" fill="#7d4c94"/>
<rect x="-16.00" y="146.62" width="16.60" height="16.89" fill="#e47559"/>
<rect x="0.00" y="146.62" width="16.60" height="16.89" fill="#e47559"/>
<rect x="16.00" y="146.62" width="16.60" height="16.89" fill="#aa5881"/>
<rect x="32.00" y="146.62" width="16.60" height="16.89" fill="#9a5489"/>
<rect x="48.00" y="146.62" width="16.60" height="16.89" fill="#9a5489"/>
<rect x="64.00" y="146.62" width="16.60" height="16.89" fill="#8b508f"/>
<rect x="80.00" y="146.62" width="16.60" height="16.89" fill="#7d4c94"/>
<rect x="96.00" y="146.62" width="16.60" height="16.89" fill="#61429b"/>
<rect x="112.00" y="146.62" width="16.60" height="16.89" fill="#45399e"/>
<rect x="128.00" y="146.62" width="16.60" height="16.89" fill="#36369b"/>
<rect x="144.00" y="146.62" width="16.60" height="16.89" fill="#273397"/>
<rect x="160.00" y="146.62" width="16.60" height="16.89" fill="#36369b"/>
<rect x="176.00" y="146.62" width="16.60" height="16.89" fill="#533d9e"/>
<rect x="192.00" y="146.62" width="16.60" height="16.89" fill="#533d9e"/>
<rect x="-16.00" y="162.92" width="16.60" height="16.89" fill="#aa5881"/>
<rect x="0.00" y="162.92" width="16.60" height="16.89" fill="#aa5881"/>
<rect x="16.00" y="162.92" width="16.60" height="16.89" fill="#9a5489"/>
<rect x="32.00" y="162.92" width="16.60" height="16.89" fill="#8b508f"/>
<rect x="48.00" y="162.92" width="16.60" height="16.89" fill="#8b508f"/>
<rect x="64.00" y="162.92" width="16.60" height="16.89" fill="#7d4c94"/>
<rect x="80.00" y="162.92" width="16.60" height="16.89" fill="#6f4798"/>
<rect x="96.00" y="162.92" width="16.60" height="16.89" fill="#45399e"/>
<rect x="112.00" y="162.92" width="16.60" height="16.89" fill="#0c2d5f"/>
<rect x="128.00" y="162.92" width="16.60" height="16.89" fill="#152f74"/>
<rect x="144.00" y="162.92" width="16.60" height="16.89" fill="#1d3188"/>
<rect x="160.00" y="162.92" width="16.60" height="16.89" fill="#36369b"/>
<rect x="176.00" y="162.92" width="16.60" height="16.89" fill="#45399e"/>
<rect x="192.00" y="162.92" width="16.60" height="16.89" fill="#45399e"/>
<rect x="-16.00" y="179.21" width="16.60" height="16.89" fill="#9a5489"/>
<rect x="0.00" y="179.21" width="16.60" height="16.89" fill="#9a5489"/>
<rect x="16.00" y="179.21" width="16.60" height="16.89" fill="#8b508f"/>
<rect x="32.00" y="179.21" width="16.60" height="16.89" fill="#8b508f"/>
<rect x="48.00" y="179.21" width="16.60" height="16.89" fill="#7d4c94"/>
<rect x="64.00" y="179.21" width="16.60" height="16.89" fill="#6f4798"/>
<rect x="80.00" y="179.21" width="16.60" height="16.89" fill="#61429b"/>
<rect x="96.00" y="179.21" width="16.60" height="16.89" fill="#19307e"/>
<rect x="112.00" y="179.21" width="16.60" height="16.89" fill="#052437"/>
<rect x="128.00" y="179.21" width="16.60" height="16.89" fill="#08294b"/>
<rect x="144.00" y="179.21" width="16.60" height="16.89" fill="#1d3188"/>
<rect x="160.00" y="179.21" width="16.60" height="16.89" fill="#36369b"/>
<rect x="176.00" y="179.21" width="16.60" height="16.89" fill="#45399e"/>
<rect x="192.00" y="179.21" width="16.60" height="16.89" fill="#45399e"/>
<rect x="-16.00" y="195.50" width="16.60" height="16.89" fill="#9a5489"/>
<rect x="0.00" y="195.50" width="16.60" height="16.89" fill="#9a5489"/>
<rect x="16.00" y="195.50" width="16.60" height="16.89" fill="#8b508f"/>
<rect x="32.00" y="195.50" width="16.60" height="16.89" fill="#8b508f"/>
<rect x="48.00" y="195.50" width="16.60" height="16.89" fill="#7d4c94"/>
<rect x="64.00" y="195.50" width="16.60" height="16.89" fill="#6f4798"/>
<rect x="80.00" y="195.50" width="16.60" height="16.89" fill="#61429b"/>
<rect x="96.00" y="195.50" width="16.60" height="16.89" fill="#19307e"/>
<rect x="112.00" y="195.50" width="16.60" height="16.89" fill="#052437"/>
<rect x="128.00" y="195.50" width="16.60" height="16.89" fill="#08294b"/>
<rect x="144.00" y="195.50" width="16.60" height="16.89" fill="#1d3188"/>
<rect x="160.00" y="195.50" width="16.60" height="16.89" fill="#36369b"/>
<rect x="176.00" y="195.50" width="16.60" height="16.89" fill="#45399e"/>
<rect x="192.00" y="195.50" width="16.60" height="16.89" fill="#45399e"/>
</g><filter id="clb" x="-5%" y="-5%" width="110%" height="110%"><feGaussianBlur stdDeviation="0.6"/></filter>
<filter id="spb1" filterUnits="userSpaceOnUse" x="0" y="0" width="192" height="196" color-interpolation-filters="sRGB"><feTurbulence type="fractalNoise" baseFrequency="0.22" numOctaves="3" seed="5" result="n0"/><feColorMatrix in="n0" type="matrix" values="0 0 0 0 1 0 0 0 0 1 0 0 0 0 1 1 0 0 0 0" result="n"/><feGaussianBlur in="SourceGraphic" stdDeviation="2.5" result="m"/><feComposite in="n" in2="m" operator="arithmetic" k1="0" k2="1" k3="1" k4="-1" result="s"/><feComponentTransfer in="s" result="t"><feFuncA type="linear" slope="8.0" intercept="-4.750"/></feComponentTransfer><feColorMatrix in="t" type="matrix" values="0 0 0 0 0.97 0 0 0 0 0.94 0 0 0 0 0.94 0 0 0 1 0" result="w"/><feGaussianBlur in="w" stdDeviation="0.45"/></filter>
<filter id="spb2" filterUnits="userSpaceOnUse" x="0" y="0" width="192" height="196" color-interpolation-filters="sRGB"><feTurbulence type="fractalNoise" baseFrequency="0.22" numOctaves="3" seed="5" result="n0"/><feColorMatrix in="n0" type="matrix" values="0 0 0 0 1 0 0 0 0 1 0 0 0 0 1 1 0 0 0 0" result="n"/><feGaussianBlur in="SourceGraphic" stdDeviation="2.5" result="m"/><feComposite in="n" in2="m" operator="arithmetic" k1="0" k2="1" k3="1" k4="-1" result="s"/><feComponentTransfer in="s" result="t"><feFuncA type="linear" slope="8.0" intercept="-4.500"/></feComponentTransfer><feColorMatrix in="t" type="matrix" values="0 0 0 0 0.97 0 0 0 0 0.94 0 0 0 0 0.94 0 0 0 1 0" result="w"/><feGaussianBlur in="w" stdDeviation="0.45"/></filter>
<filter id="spb3" filterUnits="userSpaceOnUse" x="0" y="0" width="192" height="196" color-interpolation-filters="sRGB"><feTurbulence type="fractalNoise" baseFrequency="0.22" numOctaves="3" seed="5" result="n0"/><feColorMatrix in="n0" type="matrix" values="0 0 0 0 1 0 0 0 0 1 0 0 0 0 1 1 0 0 0 0" result="n"/><feGaussianBlur in="SourceGraphic" stdDeviation="2.5" result="m"/><feComposite in="n" in2="m" operator="arithmetic" k1="0" k2="1" k3="1" k4="-1" result="s"/><feComponentTransfer in="s" result="t"><feFuncA type="linear" slope="8.0" intercept="-4.250"/></feComponentTransfer><feColorMatrix in="t" type="matrix" values="0 0 0 0 0.97 0 0 0 0 0.94 0 0 0 0 0.94 0 0 0 1 0" result="w"/><feGaussianBlur in="w" stdDeviation="0.45"/></filter>
<filter id="spb4" filterUnits="userSpaceOnUse" x="0" y="0" width="192" height="196" color-interpolation-filters="sRGB"><feTurbulence type="fractalNoise" baseFrequency="0.22" numOctaves="3" seed="5" result="n0"/><feColorMatrix in="n0" type="matrix" values="0 0 0 0 1 0 0 0 0 1 0 0 0 0 1 1 0 0 0 0" result="n"/><feGaussianBlur in="SourceGraphic" stdDeviation="2.5" result="m"/><feComposite in="n" in2="m" operator="arithmetic" k1="0" k2="1" k3="1" k4="-1" result="s"/><feComponentTransfer in="s" result="t"><feFuncA type="linear" slope="8.0" intercept="-4.000"/></feComponentTransfer><feColorMatrix in="t" type="matrix" values="0 0 0 0 0.97 0 0 0 0 0.94 0 0 0 0 0.94 0 0 0 1 0" result="w"/><feGaussianBlur in="w" stdDeviation="0.45"/></filter>
<filter id="spb5" filterUnits="userSpaceOnUse" x="0" y="0" width="192" height="196" color-interpolation-filters="sRGB"><feTurbulence type="fractalNoise" baseFrequency="0.22" numOctaves="3" seed="5" result="n0"/><feColorMatrix in="n0" type="matrix" values="0 0 0 0 1 0 0 0 0 1 0 0 0 0 1 1 0 0 0 0" result="n"/><feGaussianBlur in="SourceGraphic" stdDeviation="2.5" result="m"/><feComposite in="n" in2="m" operator="arithmetic" k1="0" k2="1" k3="1" k4="-1" result="s"/><feComponentTransfer in="s" result="t"><feFuncA type="linear" slope="8.0" intercept="-3.750"/></feComponentTransfer><feColorMatrix in="t" type="matrix" values="0 0 0 0 0.97 0 0 0 0 0.94 0 0 0 0 0.94 0 0 0 1 0" result="w"/><feGaussianBlur in="w" stdDeviation="0.45"/></filter>
<filter id="spb6" filterUnits="userSpaceOnUse" x="0" y="0" width="192" height="196" color-interpolation-filters="sRGB"><feTurbulence type="fractalNoise" baseFrequency="0.22" numOctaves="3" seed="5" result="n0"/><feColorMatrix in="n0" type="matrix" values="0 0 0 0 1 0 0 0 0 1 0 0 0 0 1 1 0 0 0 0" result="n"/><feGaussianBlur in="SourceGraphic" stdDeviation="2.5" result="m"/><feComposite in="n" in2="m" operator="arithmetic" k1="0" k2="1" k3="1" k4="-1" result="s"/><feComponentTransfer in="s" result="t"><feFuncA type="linear" slope="8.0" intercept="-3.500"/></feComponentTransfer><feColorMatrix in="t" type="matrix" values="0 0 0 0 0.97 0 0 0 0 0.94 0 0 0 0 0.94 0 0 0 1 0" result="w"/><feGaussianBlur in="w" stdDeviation="0.45"/></filter>
<filter id="spb7" filterUnits="userSpaceOnUse" x="0" y="0" width="192" height="196" color-interpolation-filters="sRGB"><feTurbulence type="fractalNoise" baseFrequency="0.22" numOctaves="3" seed="5" result="n0"/><feColorMatrix in="n0" type="matrix" values="0 0 0 0 1 0 0 0 0 1 0 0 0 0 1 1 0 0 0 0" result="n"/><feGaussianBlur in="SourceGraphic" stdDeviation="2.5" result="m"/><feComposite in="n" in2="m" operator="arithmetic" k1="0" k2="1" k3="1" k4="-1" result="s"/><feComponentTransfer in="s" result="t"><feFuncA type="linear" slope="8.0" intercept="-3.250"/></feComponentTransfer><feColorMatrix in="t" type="matrix" values="0 0 0 0 0.97 0 0 0 0 0.94 0 0 0 0 0.94 0 0 0 1 0" result="w"/><feGaussianBlur in="w" stdDeviation="0.45"/></filter>
<filter id="spb8" filterUnits="userSpaceOnUse" x="0" y="0" width="192" height="196" color-interpolation-filters="sRGB"><feTurbulence type="fractalNoise" baseFrequency="0.22" numOctaves="3" seed="5" result="n0"/><feColorMatrix in="n0" type="matrix" values="0 0 0 0 1 0 0 0 0 1 0 0 0 0 1 1 0 0 0 0" result="n"/><feGaussianBlur in="SourceGraphic" stdDeviation="2.5" result="m"/><feComposite in="n" in2="m" operator="arithmetic" k1="0" k2="1" k3="1" k4="-1" result="s"/><feComponentTransfer in="s" result="t"><feFuncA type="linear" slope="8.0" intercept="-3.000"/></feComponentTransfer><feColorMatrix in="t" type="matrix" values="0 0 0 0 0.97 0 0 0 0 0.94 0 0 0 0 0.94 0 0 0 1 0" result="w"/><feGaussianBlur in="w" stdDeviation="0.45"/></filter>
<filter id="spb9" filterUnits="userSpaceOnUse" x="0" y="0" width="192" height="196" color-interpolation-filters="sRGB"><feTurbulence type="fractalNoise" baseFrequency="0.22" numOctaves="3" seed="5" result="n0"/><feColorMatrix in="n0" type="matrix" values="0 0 0 0 1 0 0 0 0 1 0 0 0 0 1 1 0 0 0 0" result="n"/><feGaussianBlur in="SourceGraphic" stdDeviation="2.5" result="m"/><feComposite in="n" in2="m" operator="arithmetic" k1="0" k2="1" k3="1" k4="-1" result="s"/><feComponentTransfer in="s" result="t"><feFuncA type="linear" slope="8.0" intercept="-2.750"/></feComponentTransfer><feColorMatrix in="t" type="matrix" values="0 0 0 0 0.97 0 0 0 0 0.94 0 0 0 0 0.94 0 0 0 1 0" result="w"/><feGaussianBlur in="w" stdDeviation="0.45"/></filter>
<filter id="spb10" filterUnits="userSpaceOnUse" x="0" y="0" width="192" height="196" color-interpolation-filters="sRGB"><feTurbulence type="fractalNoise" baseFrequency="0.22" numOctaves="3" seed="5" result="n0"/><feColorMatrix in="n0" type="matrix" values="0 0 0 0 1 0 0 0 0 1 0 0 0 0 1 1 0 0 0 0" result="n"/><feGaussianBlur in="SourceGraphic" stdDeviation="2.5" result="m"/><feComposite in="n" in2="m" operator="arithmetic" k1="0" k2="1" k3="1" k4="-1" result="s"/><feComponentTransfer in="s" result="t"><feFuncA type="linear" slope="8.0" intercept="-2.500"/></feComponentTransfer><feColorMatrix in="t" type="matrix" values="0 0 0 0 0.97 0 0 0 0 0.94 0 0 0 0 0.94 0 0 0 1 0" result="w"/><feGaussianBlur in="w" stdDeviation="0.45"/></filter>
<filter id="hzb" x="-20%" y="-20%" width="140%" height="140%"><feGaussianBlur stdDeviation="4"/></filter>
<filter id="hzbf" x="-20%" y="-20%" width="140%" height="140%"><feGaussianBlur stdDeviation="1.5"/></filter>
<filter id="hzb" x="-20%" y="-20%" width="140%" height="140%"><feGaussianBlur stdDeviation="4"/></filter>
<polygon points="112,-3 135,-3 146,0 146,27 133,27 122,21 113,12" fill="#f6b848" filter="url(#hzbf)"/>
<g filter="url(#spb9)" opacity="0.95"><polygon points="110,-3 135,-3 145,2 145,26 133,26 122,20 114,12" fill="#fff"/></g>
<polygon points="127,10 133,8 143,9 143,22 135,22 128,18" fill="#fff" fill-opacity="0.8" filter="url(#clb)"/>
<polygon points="141,22 146,22 146,49 141,49" fill="#f6c050" filter="url(#hzbf)"/>
<g filter="url(#spb8)" opacity="0.95"><polygon points="140,20 146,20 146,50 140,50" fill="#fff"/></g>
<polygon points="139.0,48.0 138.0,53.0 140.0,58.0 144.0,63.0 143.0,68.0 149.0,73.0 151.0,78.0 160.0,79.5 172.0,82.0 179.0,86.0 185.0,91.0 179.0,94.0 183.0,98.0 188.0,103.0 191.0,109.0 192.0,112.0 196.0,112.0 196.0,48.0" fill="#f8d060" filter="url(#hzbf)"/>
<g filter="url(#spb10)" opacity="0.98"><polygon points="139,48 138,53 140,58 144,63 143,68 149,73 151,78 160,79.5 172,82 179,86 185,91 179,94 183,98 188,103 191,109 192,112 196,112 196,48" fill="#fff"/></g>
<polygon points="144,51 146,56 150,62 150,67 155,71 158,75 164,77 172,79 179,83 186,88 183,93 187,98 190,104 192,108 192,50" fill="#fff" fill-opacity="0.8" filter="url(#clb)"/>
<polygon points="175,64 179,62 183,65 182,70 177,72" fill="#7a4a98" filter="url(#hzbf)"/>
<polygon points="186,56 192,54 192,68 187,66" fill="#704898" filter="url(#hzbf)"/>
<polygon points="160,68 165,66 168,72 162,74" fill="#f0a050" filter="url(#hzbf)"/>
<g filter="url(#spb5)" opacity="0.9"><polygon points="-3,66 18,66 32,78 34,100 20,102 -3,102" fill="#fff"/></g>
<g filter="url(#spb7)" opacity="0.9"><polygon points="54,94 62,94 62,104 54,104" fill="#fff"/></g><line x1="16.5" y1="0" x2="16.5" y2="195.5" stroke="#000" stroke-opacity="0.27" stroke-width="0.8"/>
<line x1="64.5" y1="0" x2="64.5" y2="195.5" stroke="#000" stroke-opacity="0.27" stroke-width="0.8"/>
<line x1="112.5" y1="0" x2="112.5" y2="195.5" stroke="#000" stroke-opacity="0.27" stroke-width="0.8"/>
<line x1="160.5" y1="0" x2="160.5" y2="195.5" stroke="#000" stroke-opacity="0.27" stroke-width="0.8"/>
<line x1="0" y1="49.4" x2="192.0" y2="49.4" stroke="#000" stroke-opacity="0.27" stroke-width="0.8"/>
<line x1="0" y1="98.4" x2="192.0" y2="98.4" stroke="#000" stroke-opacity="0.27" stroke-width="0.8"/>
<line x1="0" y1="147.4" x2="192.0" y2="147.4" stroke="#000" stroke-opacity="0.27" stroke-width="0.8"/>
<polyline points="0,3.6 27,20 87,56.4 142,92.3 192,124.6" fill="none" stroke="#fff" stroke-width="1"/>
<polyline points="60.3,195.5 45.4,66.3 101.6,66.3" fill="none" stroke="#fff" stroke-width="1"/>
<rect x="0.4" y="0.4" width="191.2" height="194.7" fill="none" stroke="#222" stroke-width="0.8"/></svg>
<svg class="pn" style="left:33px;top:239px" width="192.0" height="195.5" viewBox="0 0 192.0 195.5"><filter id="fc" x="-20%" y="-20%" width="140%" height="140%"><feGaussianBlur stdDeviation="4.5"/></filter>
<g filter="url(#fc)">
<rect x="-16.00" y="-16.29" width="16.60" height="16.89" fill="#967578"/>
<rect x="0.00" y="-16.29" width="16.60" height="16.89" fill="#967578"/>
<rect x="16.00" y="-16.29" width="16.60" height="16.89" fill="#987376"/>
<rect x="32.00" y="-16.29" width="16.60" height="16.89" fill="#9c7174"/>
<rect x="48.00" y="-16.29" width="16.60" height="16.89" fill="#947176"/>
<rect x="64.00" y="-16.29" width="16.60" height="16.89" fill="#946c70"/>
<rect x="80.00" y="-16.29" width="16.60" height="16.89" fill="#8a6a70"/>
<rect x="96.00" y="-16.29" width="16.60" height="16.89" fill="#806b72"/>
<rect x="112.00" y="-16.29" width="16.60" height="16.89" fill="#8c7174"/>
<rect x="128.00" y="-16.29" width="16.60" height="16.89" fill="#9a7b7e"/>
<rect x="144.00" y="-16.29" width="16.60" height="16.89" fill="#a47779"/>
<rect x="160.00" y="-16.29" width="16.60" height="16.89" fill="#aa797b"/>
<rect x="176.00" y="-16.29" width="16.60" height="16.89" fill="#b47777"/>
<rect x="192.00" y="-16.29" width="16.60" height="16.89" fill="#b47777"/>
<rect x="-16.00" y="0.00" width="16.60" height="16.89" fill="#967578"/>
<rect x="0.00" y="0.00" width="16.60" height="16.89" fill="#967578"/>
<rect x="16.00" y="0.00" width="16.60" height="16.89" fill="#987376"/>
<rect x="32.00" y="0.00" width="16.60" height="16.89" fill="#9c7174"/>
<rect x="48.00" y="0.00" width="16.60" height="16.89" fill="#947176"/>
<rect x="64.00" y="0.00" width="16.60" height="16.89" fill="#946c70"/>
<rect x="80.00" y="0.00" width="16.60" height="16.89" fill="#8a6a70"/>
<rect x="96.00" y="0.00" width="16.60" height="16.89" fill="#806b72"/>
<rect x="112.00" y="0.00" width="16.60" height="16.89" fill="#8c7174"/>
<rect x="128.00" y="0.00" width="16.60" height="16.89" fill="#9a7b7e"/>
<rect x="144.00" y="0.00" width="16.60" height="16.89" fill="#a47779"/>
<rect x="160.00" y="0.00" width="16.60" height="16.89" fill="#aa797b"/>
<rect x="176.00" y="0.00" width="16.60" height="16.89" fill="#b47777"/>
<rect x="192.00" y="0.00" width="16.60" height="16.89" fill="#b47777"/>
<rect x="-16.00" y="16.29" width="16.60" height="16.89" fill="#9c7578"/>
<rect x="0.00" y="16.29" width="16.60" height="16.89" fill="#9c7578"/>
<rect x="16.00" y="16.29" width="16.60" height="16.89" fill="#a27173"/>
<rect x="32.00" y="16.29" width="16.60" height="16.89" fill="#a86b6d"/>
<rect x="48.00" y="16.29" width="16.60" height="16.89" fill="#ac696d"/>
<rect x="64.00" y="16.29" width="16.60" height="16.89" fill="#8e6a70"/>
<rect x="80.00" y="16.29" width="16.60" height="16.89" fill="#886870"/>
<rect x="96.00" y="16.29" width="16.60" height="16.89" fill="#7e6b72"/>
<rect x="112.00" y="16.29" width="16.60" height="16.89" fill="#846d74"/>
<rect x="128.00" y="16.29" width="16.60" height="16.89" fill="#967578"/>
<rect x="144.00" y="16.29" width="16.60" height="16.89" fill="#a47779"/>
<rect x="160.00" y="16.29" width="16.60" height="16.89" fill="#b07575"/>
<rect x="176.00" y="16.29" width="16.60" height="16.89" fill="#b47777"/>
<rect x="192.00" y="16.29" width="16.60" height="16.89" fill="#b47777"/>
<rect x="-16.00" y="32.58" width="16.60" height="16.89" fill="#a86d6d"/>
<rect x="0.00" y="32.58" width="16.60" height="16.89" fill="#a86d6d"/>
<rect x="16.00" y="32.58" width="16.60" height="16.89" fill="#a86b6b"/>
<rect x="32.00" y="32.58" width="16.60" height="16.89" fill="#a6696b"/>
<rect x="48.00" y="32.58" width="16.60" height="16.89" fill="#a8696b"/>
<rect x="64.00" y="32.58" width="16.60" height="16.89" fill="#9a6468"/>
<rect x="80.00" y="32.58" width="16.60" height="16.89" fill="#9e6266"/>
<rect x="96.00" y="32.58" width="16.60" height="16.89" fill="#8a6b72"/>
<rect x="112.00" y="32.58" width="16.60" height="16.89" fill="#806b72"/>
<rect x="128.00" y="32.58" width="16.60" height="16.89" fill="#826d74"/>
<rect x="144.00" y="32.58" width="16.60" height="16.89" fill="#96757a"/>
<rect x="160.00" y="32.58" width="16.60" height="16.89" fill="#aa797b"/>
<rect x="176.00" y="32.58" width="16.60" height="16.89" fill="#b47777"/>
<rect x="192.00" y="32.58" width="16.60" height="16.89" fill="#b47777"/>
<rect x="-16.00" y="48.88" width="16.60" height="16.89" fill="#a77171"/>
<rect x="0.00" y="48.88" width="16.60" height="16.89" fill="#a77171"/>
<rect x="16.00" y="48.88" width="16.60" height="16.89" fill="#a56b6b"/>
<rect x="32.00" y="48.88" width="16.60" height="16.89" fill="#9f6b6e"/>
<rect x="48.00" y="48.88" width="16.60" height="16.89" fill="#91676c"/>
<rect x="64.00" y="48.88" width="16.60" height="16.89" fill="#85676c"/>
<rect x="80.00" y="48.88" width="16.60" height="16.89" fill="#7f656a"/>
<rect x="96.00" y="48.88" width="16.60" height="16.89" fill="#81656a"/>
<rect x="112.00" y="48.88" width="16.60" height="16.89" fill="#99656a"/>
<rect x="128.00" y="48.88" width="16.60" height="16.89" fill="#b15f63"/>
<rect x="144.00" y="48.88" width="16.60" height="16.89" fill="#b16567"/>
<rect x="160.00" y="48.88" width="16.60" height="16.89" fill="#b16969"/>
<rect x="176.00" y="48.88" width="16.60" height="16.89" fill="#b76f6d"/>
<rect x="192.00" y="48.88" width="16.60" height="16.89" fill="#b76f6d"/>
<rect x="-16.00" y="65.17" width="16.60" height="16.89" fill="#a57171"/>
<rect x="0.00" y="65.17" width="16.60" height="16.89" fill="#a57171"/>
<rect x="16.00" y="65.17" width="16.60" height="16.89" fill="#996d70"/>
<rect x="32.00" y="65.17" width="16.60" height="16.89" fill="#8d696e"/>
<rect x="48.00" y="65.17" width="16.60" height="16.89" fill="#81656a"/>
<rect x="64.00" y="65.17" width="16.60" height="16.89" fill="#7d656a"/>
<rect x="80.00" y="65.17" width="16.60" height="16.89" fill="#89656a"/>
<rect x="96.00" y="65.17" width="16.60" height="16.89" fill="#b15f63"/>
<rect x="112.00" y="65.17" width="16.60" height="16.89" fill="#b96165"/>
<rect x="128.00" y="65.17" width="16.60" height="16.89" fill="#b56163"/>
<rect x="144.00" y="65.17" width="16.60" height="16.89" fill="#b16365"/>
<rect x="160.00" y="65.17" width="16.60" height="16.89" fill="#b16769"/>
<rect x="176.00" y="65.17" width="16.60" height="16.89" fill="#b56b6b"/>
<rect x="192.00" y="65.17" width="16.60" height="16.89" fill="#b56b6b"/>
<rect x="-16.00" y="81.46" width="16.60" height="16.89" fill="#996f72"/>
<rect x="0.00" y="81.46" width="16.60" height="16.89" fill="#996f72"/>
<rect x="16.00" y="81.46" width="16.60" height="16.89" fill="#89696e"/>
<rect x="32.00" y="81.46" width="16.60" height="16.89" fill="#7f656a"/>
<rect x="48.00" y="81.46" width="16.60" height="16.89" fill="#7b656a"/>
<rect x="64.00" y="81.46" width="16.60" height="16.89" fill="#8f656a"/>
<rect x="80.00" y="81.46" width="16.60" height="16.89" fill="#b15f63"/>
<rect x="96.00" y="81.46" width="16.60" height="16.89" fill="#b76165"/>
<rect x="112.00" y="81.46" width="16.60" height="16.89" fill="#b56165"/>
<rect x="128.00" y="81.46" width="16.60" height="16.89" fill="#b16165"/>
<rect x="144.00" y="81.46" width="16.60" height="16.89" fill="#b16367"/>
<rect x="160.00" y="81.46" width="16.60" height="16.89" fill="#b16769"/>
<rect x="176.00" y="81.46" width="16.60" height="16.89" fill="#b5696b"/>
<rect x="192.00" y="81.46" width="16.60" height="16.89" fill="#b5696b"/>
<rect x="-16.00" y="97.75" width="16.60" height="16.89" fill="#7b656a"/>
<rect x="0.00" y="97.75" width="16.60" height="16.89" fill="#7b656a"/>
<rect x="16.00" y="97.75" width="16.60" height="16.89" fill="#7d656a"/>
<rect x="32.00" y="97.75" width="16.60" height="16.89" fill="#85656a"/>
<rect x="48.00" y="97.75" width="16.60" height="16.89" fill="#8f656a"/>
<rect x="64.00" y="97.75" width="16.60" height="16.89" fill="#b35f63"/>
<rect x="80.00" y="97.75" width="16.60" height="16.89" fill="#b76165"/>
<rect x="96.00" y="97.75" width="16.60" height="16.89" fill="#b36365"/>
<rect x="112.00" y="97.75" width="16.60" height="16.89" fill="#b16367"/>
<rect x="128.00" y="97.75" width="16.60" height="16.89" fill="#b16567"/>
<rect x="144.00" y="97.75" width="16.60" height="16.89" fill="#b16769"/>
<rect x="160.00" y="97.75" width="16.60" height="16.89" fill="#b3696b"/>
<rect x="176.00" y="97.75" width="16.60" height="16.89" fill="#b76f6f"/>
<rect x="192.00" y="97.75" width="16.60" height="16.89" fill="#b76f6f"/>
<rect x="-16.00" y="114.04" width="16.60" height="16.89" fill="#8e5b66"/>
<rect x="0.00" y="114.04" width="16.60" height="16.89" fill="#8e5b66"/>
<rect x="16.00" y="114.04" width="16.60" height="16.89" fill="#a4555f"/>
<rect x="32.00" y="114.04" width="16.60" height="16.89" fill="#ae5761"/>
<rect x="48.00" y="114.04" width="16.60" height="16.89" fill="#b05761"/>
<rect x="64.00" y="114.04" width="16.60" height="16.89" fill="#ac5761"/>
<rect x="80.00" y="114.04" width="16.60" height="16.89" fill="#a65961"/>
<rect x="96.00" y="114.04" width="16.60" height="16.89" fill="#a25963"/>
<rect x="112.00" y="114.04" width="16.60" height="16.89" fill="#a25b63"/>
<rect x="128.00" y="114.04" width="16.60" height="16.89" fill="#a45d65"/>
<rect x="144.00" y="114.04" width="16.60" height="16.89" fill="#a65d65"/>
<rect x="160.00" y="114.04" width="16.60" height="16.89" fill="#a65f67"/>
<rect x="176.00" y="114.04" width="16.60" height="16.89" fill="#a86167"/>
<rect x="192.00" y="114.04" width="16.60" height="16.89" fill="#a86167"/>
<rect x="-16.00" y="130.33" width="16.60" height="16.89" fill="#a0555d"/>
<rect x="0.00" y="130.33" width="16.60" height="16.89" fill="#a0555d"/>
<rect x="16.00" y="130.33" width="16.60" height="16.89" fill="#a8555f"/>
<rect x="32.00" y="130.33" width="16.60" height="16.89" fill="#ac5761"/>
<rect x="48.00" y="130.33" width="16.60" height="16.89" fill="#b05963"/>
<rect x="64.00" y="130.33" width="16.60" height="16.89" fill="#b25963"/>
<rect x="80.00" y="130.33" width="16.60" height="16.89" fill="#ac5b63"/>
<rect x="96.00" y="130.33" width="16.60" height="16.89" fill="#a65b65"/>
<rect x="112.00" y="130.33" width="16.60" height="16.89" fill="#a65d65"/>
<rect x="128.00" y="130.33" width="16.60" height="16.89" fill="#a65d65"/>
<rect x="144.00" y="130.33" width="16.60" height="16.89" fill="#a65f67"/>
<rect x="160.00" y="130.33" width="16.60" height="16.89" fill="#a85f67"/>
<rect x="176.00" y="130.33" width="16.60" height="16.89" fill="#aa6167"/>
<rect x="192.00" y="130.33" width="16.60" height="16.89" fill="#aa6167"/>
<rect x="-16.00" y="146.62" width="16.60" height="16.89" fill="#a2555d"/>
<rect x="0.00" y="146.62" width="16.60" height="16.89" fill="#a2555d"/>
<rect x="16.00" y="146.62" width="16.60" height="16.89" fill="#a4555f"/>
<rect x="32.00" y="146.62" width="16.60" height="16.89" fill="#a85761"/>
<rect x="48.00" y="146.62" width="16.60" height="16.89" fill="#aa5963"/>
<rect x="64.00" y="146.62" width="16.60" height="16.89" fill="#aa5b63"/>
<rect x="80.00" y="146.62" width="16.60" height="16.89" fill="#a85963"/>
<rect x="96.00" y="146.62" width="16.60" height="16.89" fill="#a45963"/>
<rect x="112.00" y="146.62" width="16.60" height="16.89" fill="#a05967"/>
<rect x="128.00" y="146.62" width="16.60" height="16.89" fill="#885b6c"/>
<rect x="144.00" y="146.62" width="16.60" height="16.89" fill="#845b6c"/>
<rect x="160.00" y="146.62" width="16.60" height="16.89" fill="#965f6d"/>
<rect x="176.00" y="146.62" width="16.60" height="16.89" fill="#a25f67"/>
<rect x="192.00" y="146.62" width="16.60" height="16.89" fill="#a25f67"/>
<rect x="-16.00" y="162.92" width="16.60" height="16.89" fill="#a6575f"/>
<rect x="0.00" y="162.92" width="16.60" height="16.89" fill="#a6575f"/>
<rect x="16.00" y="162.92" width="16.60" height="16.89" fill="#a85761"/>
<rect x="32.00" y="162.92" width="16.60" height="16.89" fill="#aa5963"/>
<rect x="48.00" y="162.92" width="16.60" height="16.89" fill="#ac5b65"/>
<rect x="64.00" y="162.92" width="16.60" height="16.89" fill="#aa5b65"/>
<rect x="80.00" y="162.92" width="16.60" height="16.89" fill="#a85b65"/>
<rect x="96.00" y="162.92" width="16.60" height="16.89" fill="#a45b65"/>
<rect x="112.00" y="162.92" width="16.60" height="16.89" fill="#a25b67"/>
<rect x="128.00" y="162.92" width="16.60" height="16.89" fill="#905f6e"/>
<rect x="144.00" y="162.92" width="16.60" height="16.89" fill="#965f6d"/>
<rect x="160.00" y="162.92" width="16.60" height="16.89" fill="#a05d67"/>
<rect x="176.00" y="162.92" width="16.60" height="16.89" fill="#a46169"/>
<rect x="192.00" y="162.92" width="16.60" height="16.89" fill="#a46169"/>
<rect x="-16.00" y="179.21" width="16.60" height="16.89" fill="#aa5961"/>
<rect x="0.00" y="179.21" width="16.60" height="16.89" fill="#aa5961"/>
<rect x="16.00" y="179.21" width="16.60" height="16.89" fill="#ac5b63"/>
<rect x="32.00" y="179.21" width="16.60" height="16.89" fill="#ae5d65"/>
<rect x="48.00" y="179.21" width="16.60" height="16.89" fill="#ac5d65"/>
<rect x="64.00" y="179.21" width="16.60" height="16.89" fill="#ac5d65"/>
<rect x="80.00" y="179.21" width="16.60" height="16.89" fill="#aa5d65"/>
<rect x="96.00" y="179.21" width="16.60" height="16.89" fill="#a85d67"/>
<rect x="112.00" y="179.21" width="16.60" height="16.89" fill="#a65d67"/>
<rect x="128.00" y="179.21" width="16.60" height="16.89" fill="#a45d67"/>
<rect x="144.00" y="179.21" width="16.60" height="16.89" fill="#a45d67"/>
<rect x="160.00" y="179.21" width="16.60" height="16.89" fill="#a65f67"/>
<rect x="176.00" y="179.21" width="16.60" height="16.89" fill="#a86169"/>
<rect x="192.00" y="179.21" width="16.60" height="16.89" fill="#a86169"/>
<rect x="-16.00" y="195.50" width="16.60" height="16.89" fill="#aa5961"/>
<rect x="0.00" y="195.50" width="16.60" height="16.89" fill="#aa5961"/>
<rect x="16.00" y="195.50" width="16.60" height="16.89" fill="#ac5b63"/>
<rect x="32.00" y="195.50" width="16.60" height="16.89" fill="#ae5d65"/>
<rect x="48.00" y="195.50" width="16.60" height="16.89" fill="#ac5d65"/>
<rect x="64.00" y="195.50" width="16.60" height="16.89" fill="#ac5d65"/>
<rect x="80.00" y="195.50" width="16.60" height="16.89" fill="#aa5d65"/>
<rect x="96.00" y="195.50" width="16.60" height="16.89" fill="#a85d67"/>
<rect x="112.00" y="195.50" width="16.60" height="16.89" fill="#a65d67"/>
<rect x="128.00" y="195.50" width="16.60" height="16.89" fill="#a45d67"/>
<rect x="144.00" y="195.50" width="16.60" height="16.89" fill="#a45d67"/>
<rect x="160.00" y="195.50" width="16.60" height="16.89" fill="#a65f67"/>
<rect x="176.00" y="195.50" width="16.60" height="16.89" fill="#a86169"/>
<rect x="192.00" y="195.50" width="16.60" height="16.89" fill="#a86169"/>
</g><filter id="bdc" x="-20%" y="-20%" width="140%" height="140%"><feGaussianBlur stdDeviation="3"/></filter><g filter="url(#bdc)"><polygon points="0,84 25,76 45,64 60,44 75,24 88,8 95,-2 150,-2 145,15 142,30 150,40 143,56 120,68 100,78 80,90 60,100 30,112 0,124" fill="#76606a" fill-opacity="0.5"/><polygon points="0,126 30,114 60,102 80,92 100,80 120,70 143,58 160,50 185,42 190,55 150,78 120,93 60,122 30,136 0,150" fill="#aa5258" fill-opacity="0.4"/></g><filter id="clc" x="-5%" y="-5%" width="110%" height="110%"><feGaussianBlur stdDeviation="0.6"/></filter>
<filter id="spc1" filterUnits="userSpaceOnUse" x="0" y="0" width="192" height="196" color-interpolation-filters="sRGB"><feTurbulence type="fractalNoise" baseFrequency="0.17" numOctaves="3" seed="3" result="n0"/><feColorMatrix in="n0" type="matrix" values="0 0 0 0 1 0 0 0 0 1 0 0 0 0 1 1 0 0 0 0" result="n"/><feGaussianBlur in="SourceGraphic" stdDeviation="2.5" result="m"/><feComposite in="n" in2="m" operator="arithmetic" k1="0" k2="1" k3="1" k4="-1" result="s"/><feComponentTransfer in="s" result="t"><feFuncA type="linear" slope="4.5" intercept="-2.453"/></feComponentTransfer><feColorMatrix in="t" type="matrix" values="0 0 0 0 0.97 0 0 0 0 0.94 0 0 0 0 0.94 0 0 0 1 0" result="w"/><feGaussianBlur in="w" stdDeviation="0.7"/></filter>
<filter id="spc2" filterUnits="userSpaceOnUse" x="0" y="0" width="192" height="196" color-interpolation-filters="sRGB"><feTurbulence type="fractalNoise" baseFrequency="0.17" numOctaves="3" seed="3" result="n0"/><feColorMatrix in="n0" type="matrix" values="0 0 0 0 1 0 0 0 0 1 0 0 0 0 1 1 0 0 0 0" result="n"/><feGaussianBlur in="SourceGraphic" stdDeviation="2.5" result="m"/><feComposite in="n" in2="m" operator="arithmetic" k1="0" k2="1" k3="1" k4="-1" result="s"/><feComponentTransfer in="s" result="t"><feFuncA type="linear" slope="4.5" intercept="-2.312"/></feComponentTransfer><feColorMatrix in="t" type="matrix" values="0 0 0 0 0.97 0 0 0 0 0.94 0 0 0 0 0.94 0 0 0 1 0" result="w"/><feGaussianBlur in="w" stdDeviation="0.7"/></filter>
<filter id="spc3" filterUnits="userSpaceOnUse" x="0" y="0" width="192" height="196" color-interpolation-filters="sRGB"><feTurbulence type="fractalNoise" baseFrequency="0.17" numOctaves="3" seed="3" result="n0"/><feColorMatrix in="n0" type="matrix" values="0 0 0 0 1 0 0 0 0 1 0 0 0 0 1 1 0 0 0 0" result="n"/><feGaussianBlur in="SourceGraphic" stdDeviation="2.5" result="m"/><feComposite in="n" in2="m" operator="arithmetic" k1="0" k2="1" k3="1" k4="-1" result="s"/><feComponentTransfer in="s" result="t"><feFuncA type="linear" slope="4.5" intercept="-2.172"/></feComponentTransfer><feColorMatrix in="t" type="matrix" values="0 0 0 0 0.97 0 0 0 0 0.94 0 0 0 0 0.94 0 0 0 1 0" result="w"/><feGaussianBlur in="w" stdDeviation="0.7"/></filter>
<filter id="spc4" filterUnits="userSpaceOnUse" x="0" y="0" width="192" height="196" color-interpolation-filters="sRGB"><feTurbulence type="fractalNoise" baseFrequency="0.17" numOctaves="3" seed="3" result="n0"/><feColorMatrix in="n0" type="matrix" values="0 0 0 0 1 0 0 0 0 1 0 0 0 0 1 1 0 0 0 0" result="n"/><feGaussianBlur in="SourceGraphic" stdDeviation="2.5" result="m"/><feComposite in="n" in2="m" operator="arithmetic" k1="0" k2="1" k3="1" k4="-1" result="s"/><feComponentTransfer in="s" result="t"><feFuncA type="linear" slope="4.5" intercept="-2.031"/></feComponentTransfer><feColorMatrix in="t" type="matrix" values="0 0 0 0 0.97 0 0 0 0 0.94 0 0 0 0 0.94 0 0 0 1 0" result="w"/><feGaussianBlur in="w" stdDeviation="0.7"/></filter>
<filter id="spc5" filterUnits="userSpaceOnUse" x="0" y="0" width="192" height="196" color-interpolation-filters="sRGB"><feTurbulence type="fractalNoise" baseFrequency="0.17" numOctaves="3" seed="3" result="n0"/><feColorMatrix in="n0" type="matrix" values="0 0 0 0 1 0 0 0 0 1 0 0 0 0 1 1 0 0 0 0" result="n"/><feGaussianBlur in="SourceGraphic" stdDeviation="2.5" result="m"/><feComposite in="n" in2="m" operator="arithmetic" k1="0" k2="1" k3="1" k4="-1" result="s"/><feComponentTransfer in="s" result="t"><feFuncA type="linear" slope="4.5" intercept="-1.891"/></feComponentTransfer><feColorMatrix in="t" type="matrix" values="0 0 0 0 0.97 0 0 0 0 0.94 0 0 0 0 0.94 0 0 0 1 0" result="w"/><feGaussianBlur in="w" stdDeviation="0.7"/></filter>
<filter id="spc6" filterUnits="userSpaceOnUse" x="0" y="0" width="192" height="196" color-interpolation-filters="sRGB"><feTurbulence type="fractalNoise" baseFrequency="0.17" numOctaves="3" seed="3" result="n0"/><feColorMatrix in="n0" type="matrix" values="0 0 0 0 1 0 0 0 0 1 0 0 0 0 1 1 0 0 0 0" result="n"/><feGaussianBlur in="SourceGraphic" stdDeviation="2.5" result="m"/><feComposite in="n" in2="m" operator="arithmetic" k1="0" k2="1" k3="1" k4="-1" result="s"/><feComponentTransfer in="s" result="t"><feFuncA type="linear" slope="4.5" intercept="-1.750"/></feComponentTransfer><feColorMatrix in="t" type="matrix" values="0 0 0 0 0.97 0 0 0 0 0.94 0 0 0 0 0.94 0 0 0 1 0" result="w"/><feGaussianBlur in="w" stdDeviation="0.7"/></filter>
<filter id="spc7" filterUnits="userSpaceOnUse" x="0" y="0" width="192" height="196" color-interpolation-filters="sRGB"><feTurbulence type="fractalNoise" baseFrequency="0.17" numOctaves="3" seed="3" result="n0"/><feColorMatrix in="n0" type="matrix" values="0 0 0 0 1 0 0 0 0 1 0 0 0 0 1 1 0 0 0 0" result="n"/><feGaussianBlur in="SourceGraphic" stdDeviation="2.5" result="m"/><feComposite in="n" in2="m" operator="arithmetic" k1="0" k2="1" k3="1" k4="-1" result="s"/><feComponentTransfer in="s" result="t"><feFuncA type="linear" slope="4.5" intercept="-1.609"/></feComponentTransfer><feColorMatrix in="t" type="matrix" values="0 0 0 0 0.97 0 0 0 0 0.94 0 0 0 0 0.94 0 0 0 1 0" result="w"/><feGaussianBlur in="w" stdDeviation="0.7"/></filter>
<filter id="spc8" filterUnits="userSpaceOnUse" x="0" y="0" width="192" height="196" color-interpolation-filters="sRGB"><feTurbulence type="fractalNoise" baseFrequency="0.17" numOctaves="3" seed="3" result="n0"/><feColorMatrix in="n0" type="matrix" values="0 0 0 0 1 0 0 0 0 1 0 0 0 0 1 1 0 0 0 0" result="n"/><feGaussianBlur in="SourceGraphic" stdDeviation="2.5" result="m"/><feComposite in="n" in2="m" operator="arithmetic" k1="0" k2="1" k3="1" k4="-1" result="s"/><feComponentTransfer in="s" result="t"><feFuncA type="linear" slope="4.5" intercept="-1.469"/></feComponentTransfer><feColorMatrix in="t" type="matrix" values="0 0 0 0 0.97 0 0 0 0 0.94 0 0 0 0 0.94 0 0 0 1 0" result="w"/><feGaussianBlur in="w" stdDeviation="0.7"/></filter>
<filter id="spc9" filterUnits="userSpaceOnUse" x="0" y="0" width="192" height="196" color-interpolation-filters="sRGB"><feTurbulence type="fractalNoise" baseFrequency="0.17" numOctaves="3" seed="3" result="n0"/><feColorMatrix in="n0" type="matrix" values="0 0 0 0 1 0 0 0 0 1 0 0 0 0 1 1 0 0 0 0" result="n"/><feGaussianBlur in="SourceGraphic" stdDeviation="2.5" result="m"/><feComposite in="n" in2="m" operator="arithmetic" k1="0" k2="1" k3="1" k4="-1" result="s"/><feComponentTransfer in="s" result="t"><feFuncA type="linear" slope="4.5" intercept="-1.328"/></feComponentTransfer><feColorMatrix in="t" type="matrix" values="0 0 0 0 0.97 0 0 0 0 0.94 0 0 0 0 0.94 0 0 0 1 0" result="w"/><feGaussianBlur in="w" stdDeviation="0.7"/></filter>
<filter id="spc10" filterUnits="userSpaceOnUse" x="0" y="0" width="192" height="196" color-interpolation-filters="sRGB"><feTurbulence type="fractalNoise" baseFrequency="0.17" numOctaves="3" seed="3" result="n0"/><feColorMatrix in="n0" type="matrix" values="0 0 0 0 1 0 0 0 0 1 0 0 0 0 1 1 0 0 0 0" result="n"/><feGaussianBlur in="SourceGraphic" stdDeviation="2.5" result="m"/><feComposite in="n" in2="m" operator="arithmetic" k1="0" k2="1" k3="1" k4="-1" result="s"/><feComponentTransfer in="s" result="t"><feFuncA type="linear" slope="4.5" intercept="-1.188"/></feComponentTransfer><feColorMatrix in="t" type="matrix" values="0 0 0 0 0.97 0 0 0 0 0.94 0 0 0 0 0.94 0 0 0 1 0" result="w"/><feGaussianBlur in="w" stdDeviation="0.7"/></filter>
<filter id="hzc" x="-20%" y="-20%" width="140%" height="140%"><feGaussianBlur stdDeviation="4"/></filter>
<filter id="hzcf" x="-20%" y="-20%" width="140%" height="140%"><feGaussianBlur stdDeviation="1.5"/></filter>
<filter id="hzc" x="-20%" y="-20%" width="140%" height="140%"><feGaussianBlur stdDeviation="4"/></filter>
<polygon points="138.2,33.3 149.2,28.9 162.4,31.1 173.4,28.9 184.4,20.1 194.3,13.5 198.7,13.5 198.7,112.5 189.9,109.2 184.4,103.7 180.0,98.2 184.4,92.7 181.1,88.3 173.4,83.9 165.7,81.7 154.7,78.4 150.3,75.1 143.7,64.1 140.4,57.5 138.2,48.7" fill="#fff" fill-opacity="0.23399999999999999" filter="url(#hzc)"/>
<polygon points="113.9,-2.6 125.4,2.0 136.9,6.6 148.4,13.5 159.9,18.1 163.3,27.3 159.9,36.5 150.7,37.6 143.8,29.6 134.6,22.7 125.4,18.1 116.2,11.2 113.9,6.6" fill="#fff" fill-opacity="0.195" filter="url(#hzc)"/>
<g filter="url(#spc9)" opacity="1"><polygon points="111.8,-4.4 124.3,0.6 136.8,5.6 149.3,13.1 161.8,18.1 165.5,28.1 161.8,38.1 151.8,39.4 144.3,30.6 134.3,23.1 124.3,18.1 114.3,10.6 111.8,5.6" fill="#fff"/></g>
<g filter="url(#spc9)" opacity="1"><polygon points="137.6,32.7 148.8,28.3 162.2,30.5 173.4,28.3 184.7,19.3 194.7,12.6 199.2,12.6 199.2,113.4 190.2,110.0 184.7,104.4 180.2,98.8 184.7,93.2 181.3,88.7 173.4,84.3 165.6,82.0 154.4,78.7 149.9,75.3 143.2,64.1 139.8,57.4 137.6,48.4" fill="#fff"/></g>
<g filter="url(#spc8)" opacity="1"><polygon points="177,-3 196,-3 196,18 180,16" fill="#fff"/></g>
<g filter="url(#spc3)" opacity="0.8999999999999999"><polygon points="-3,66 13,66 22,75 20,90 11,99 -3,98" fill="#fff"/></g>
<g filter="url(#spc7)" opacity="1"><polygon points="30,99 41,98 42,106 31,107" fill="#fff"/></g>
<g filter="url(#spc7)" opacity="0.96"><polygon points="56,94 62,94 63,104 56,104" fill="#fff"/></g><line x1="16.5" y1="0" x2="16.5" y2="195.5" stroke="#000" stroke-opacity="0.27" stroke-width="0.8"/>
<line x1="64.35" y1="0" x2="64.35" y2="195.5" stroke="#000" stroke-opacity="0.27" stroke-width="0.8"/>
<line x1="112.05" y1="0" x2="112.05" y2="195.5" stroke="#000" stroke-opacity="0.27" stroke-width="0.8"/>
<line x1="159.7" y1="0" x2="159.7" y2="195.5" stroke="#000" stroke-opacity="0.27" stroke-width="0.8"/>
<line x1="0" y1="49.4" x2="192.0" y2="49.4" stroke="#000" stroke-opacity="0.27" stroke-width="0.8"/>
<line x1="0" y1="98.4" x2="192.0" y2="98.4" stroke="#000" stroke-opacity="0.27" stroke-width="0.8"/>
<line x1="0" y1="147.4" x2="192.0" y2="147.4" stroke="#000" stroke-opacity="0.27" stroke-width="0.8"/>
<polyline points="0,3.6 27,20 87,56.4 142,92.3 192,124.6" fill="none" stroke="#fff" stroke-width="1"/>
<polyline points="60.3,195.5 45.4,65.5 100.4,65.5" fill="none" stroke="#fff" stroke-width="1"/>
<rect x="0.4" y="0.4" width="191.2" height="194.7" fill="none" stroke="#222" stroke-width="0.8"/></svg>
<svg class="pn" style="left:258px;top:239px" width="192.0" height="195.5" viewBox="0 0 192.0 195.5"><filter id="fd" x="-20%" y="-20%" width="140%" height="140%"><feGaussianBlur stdDeviation="5"/></filter>
<g filter="url(#fd)">
<rect x="-16.00" y="-16.29" width="16.60" height="16.89" fill="#f3d744"/>
<rect x="0.00" y="-16.29" width="16.60" height="16.89" fill="#f3d744"/>
<rect x="16.00" y="-16.29" width="16.60" height="16.89" fill="#f6ce3e"/>
<rect x="32.00" y="-16.29" width="16.60" height="16.89" fill="#f9c639"/>
<rect x="48.00" y="-16.29" width="16.60" height="16.89" fill="#fab137"/>
<rect x="64.00" y="-16.29" width="16.60" height="16.89" fill="#faad37"/>
<rect x="80.00" y="-16.29" width="16.60" height="16.89" fill="#faa837"/>
<rect x="96.00" y="-16.29" width="16.60" height="16.89" fill="#f89e3b"/>
<rect x="112.00" y="-16.29" width="16.60" height="16.89" fill="#f59541"/>
<rect x="128.00" y="-16.29" width="16.60" height="16.89" fill="#ef824d"/>
<rect x="144.00" y="-16.29" width="16.60" height="16.89" fill="#d66b65"/>
<rect x="160.00" y="-16.29" width="16.60" height="16.89" fill="#b35b7c"/>
<rect x="176.00" y="-16.29" width="16.60" height="16.89" fill="#a65783"/>
<rect x="192.00" y="-16.29" width="16.60" height="16.89" fill="#a65783"/>
<rect x="-16.00" y="0.00" width="16.60" height="16.89" fill="#f3d744"/>
<rect x="0.00" y="0.00" width="16.60" height="16.89" fill="#f3d744"/>
<rect x="16.00" y="0.00" width="16.60" height="16.89" fill="#f6ce3e"/>
<rect x="32.00" y="0.00" width="16.60" height="16.89" fill="#f9c639"/>
<rect x="48.00" y="0.00" width="16.60" height="16.89" fill="#fab137"/>
<rect x="64.00" y="0.00" width="16.60" height="16.89" fill="#faad37"/>
<rect x="80.00" y="0.00" width="16.60" height="16.89" fill="#faa837"/>
<rect x="96.00" y="0.00" width="16.60" height="16.89" fill="#f89e3b"/>
<rect x="112.00" y="0.00" width="16.60" height="16.89" fill="#f59541"/>
<rect x="128.00" y="0.00" width="16.60" height="16.89" fill="#ef824d"/>
<rect x="144.00" y="0.00" width="16.60" height="16.89" fill="#d66b65"/>
<rect x="160.00" y="0.00" width="16.60" height="16.89" fill="#b35b7c"/>
<rect x="176.00" y="0.00" width="16.60" height="16.89" fill="#a65783"/>
<rect x="192.00" y="0.00" width="16.60" height="16.89" fill="#a65783"/>
<rect x="-16.00" y="16.29" width="16.60" height="16.89" fill="#eee950"/>
<rect x="0.00" y="16.29" width="16.60" height="16.89" fill="#eee950"/>
<rect x="16.00" y="16.29" width="16.60" height="16.89" fill="#f3d744"/>
<rect x="32.00" y="16.29" width="16.60" height="16.89" fill="#f6ce3e"/>
<rect x="48.00" y="16.29" width="16.60" height="16.89" fill="#fab637"/>
<rect x="64.00" y="16.29" width="16.60" height="16.89" fill="#fab137"/>
<rect x="80.00" y="16.29" width="16.60" height="16.89" fill="#faa837"/>
<rect x="96.00" y="16.29" width="16.60" height="16.89" fill="#f89e3b"/>
<rect x="112.00" y="16.29" width="16.60" height="16.89" fill="#f28b47"/>
<rect x="128.00" y="16.29" width="16.60" height="16.89" fill="#e0725d"/>
<rect x="144.00" y="16.29" width="16.60" height="16.89" fill="#c06075"/>
<rect x="160.00" y="16.29" width="16.60" height="16.89" fill="#a65783"/>
<rect x="176.00" y="16.29" width="16.60" height="16.89" fill="#9a5489"/>
<rect x="192.00" y="16.29" width="16.60" height="16.89" fill="#9a5489"/>
<rect x="-16.00" y="32.58" width="16.60" height="16.89" fill="#ebf155"/>
<rect x="0.00" y="32.58" width="16.60" height="16.89" fill="#ebf155"/>
<rect x="16.00" y="32.58" width="16.60" height="16.89" fill="#f1e04a"/>
<rect x="32.00" y="32.58" width="16.60" height="16.89" fill="#f3d744"/>
<rect x="48.00" y="32.58" width="16.60" height="16.89" fill="#fab637"/>
<rect x="64.00" y="32.58" width="16.60" height="16.89" fill="#fab137"/>
<rect x="80.00" y="32.58" width="16.60" height="16.89" fill="#faa837"/>
<rect x="96.00" y="32.58" width="16.60" height="16.89" fill="#f79a3e"/>
<rect x="112.00" y="32.58" width="16.60" height="16.89" fill="#e0725d"/>
<rect x="128.00" y="32.58" width="16.60" height="16.89" fill="#c06075"/>
<rect x="144.00" y="32.58" width="16.60" height="16.89" fill="#a65783"/>
<rect x="160.00" y="32.58" width="16.60" height="16.89" fill="#9a5489"/>
<rect x="176.00" y="32.58" width="16.60" height="16.89" fill="#9a5489"/>
<rect x="192.00" y="32.58" width="16.60" height="16.89" fill="#9a5489"/>
<rect x="-16.00" y="48.88" width="16.60" height="16.89" fill="#fabb37"/>
<rect x="0.00" y="48.88" width="16.60" height="16.89" fill="#fabb37"/>
<rect x="16.00" y="48.88" width="16.60" height="16.89" fill="#f9a338"/>
<rect x="32.00" y="48.88" width="16.60" height="16.89" fill="#f89e3b"/>
<rect x="48.00" y="48.88" width="16.60" height="16.89" fill="#f79a3e"/>
<rect x="64.00" y="48.88" width="16.60" height="16.89" fill="#faa837"/>
<rect x="80.00" y="48.88" width="16.60" height="16.89" fill="#f89e3b"/>
<rect x="96.00" y="48.88" width="16.60" height="16.89" fill="#f59541"/>
<rect x="112.00" y="48.88" width="16.60" height="16.89" fill="#d66b65"/>
<rect x="128.00" y="48.88" width="16.60" height="16.89" fill="#a65783"/>
<rect x="144.00" y="48.88" width="16.60" height="16.89" fill="#784b96"/>
<rect x="160.00" y="48.88" width="16.60" height="16.89" fill="#834e92"/>
<rect x="176.00" y="48.88" width="16.60" height="16.89" fill="#834e92"/>
<rect x="192.00" y="48.88" width="16.60" height="16.89" fill="#834e92"/>
<rect x="-16.00" y="65.17" width="16.60" height="16.89" fill="#f9c639"/>
<rect x="0.00" y="65.17" width="16.60" height="16.89" fill="#f9c639"/>
<rect x="16.00" y="65.17" width="16.60" height="16.89" fill="#fab137"/>
<rect x="32.00" y="65.17" width="16.60" height="16.89" fill="#f9a338"/>
<rect x="48.00" y="65.17" width="16.60" height="16.89" fill="#f79a3e"/>
<rect x="64.00" y="65.17" width="16.60" height="16.89" fill="#f9a338"/>
<rect x="80.00" y="65.17" width="16.60" height="16.89" fill="#f59541"/>
<rect x="96.00" y="65.17" width="16.60" height="16.89" fill="#ef824d"/>
<rect x="112.00" y="65.17" width="16.60" height="16.89" fill="#c06075"/>
<rect x="128.00" y="65.17" width="16.60" height="16.89" fill="#8f518d"/>
<rect x="144.00" y="65.17" width="16.60" height="16.89" fill="#784b96"/>
<rect x="160.00" y="65.17" width="16.60" height="16.89" fill="#834e92"/>
<rect x="176.00" y="65.17" width="16.60" height="16.89" fill="#834e92"/>
<rect x="192.00" y="65.17" width="16.60" height="16.89" fill="#834e92"/>
<rect x="-16.00" y="81.46" width="16.60" height="16.89" fill="#f6ce3e"/>
<rect x="0.00" y="81.46" width="16.60" height="16.89" fill="#f6ce3e"/>
<rect x="16.00" y="81.46" width="16.60" height="16.89" fill="#fab637"/>
<rect x="32.00" y="81.46" width="16.60" height="16.89" fill="#faa837"/>
<rect x="48.00" y="81.46" width="16.60" height="16.89" fill="#f79a3e"/>
<rect x="64.00" y="81.46" width="16.60" height="16.89" fill="#f89e3b"/>
<rect x="80.00" y="81.46" width="16.60" height="16.89" fill="#ef824d"/>
<rect x="96.00" y="81.46" width="16.60" height="16.89" fill="#e0725d"/>
<rect x="112.00" y="81.46" width="16.60" height="16.89" fill="#b35b7c"/>
<rect x="128.00" y="81.46" width="16.60" height="16.89" fill="#8f518d"/>
<rect x="144.00" y="81.46" width="16.60" height="16.89" fill="#784b96"/>
<rect x="160.00" y="81.46" width="16.60" height="16.89" fill="#834e92"/>
<rect x="176.00" y="81.46" width="16.60" height="16.89" fill="#834e92"/>
<rect x="192.00" y="81.46" width="16.60" height="16.89" fill="#834e92"/>
<rect x="-16.00" y="97.75" width="16.60" height="16.89" fill="#fac037"/>
<rect x="0.00" y="97.75" width="16.60" height="16.89" fill="#fac037"/>
<rect x="16.00" y="97.75" width="16.60" height="16.89" fill="#fab137"/>
<rect x="32.00" y="97.75" width="16.60" height="16.89" fill="#faad37"/>
<rect x="48.00" y="97.75" width="16.60" height="16.89" fill="#f79a3e"/>
<rect x="64.00" y="97.75" width="16.60" height="16.89" fill="#e0725d"/>
<rect x="80.00" y="97.75" width="16.60" height="16.89" fill="#b35b7c"/>
<rect x="96.00" y="97.75" width="16.60" height="16.89" fill="#9a5489"/>
<rect x="112.00" y="97.75" width="16.60" height="16.89" fill="#834e92"/>
<rect x="128.00" y="97.75" width="16.60" height="16.89" fill="#834e92"/>
<rect x="144.00" y="97.75" width="16.60" height="16.89" fill="#8f518d"/>
<rect x="160.00" y="97.75" width="16.60" height="16.89" fill="#9a5489"/>
<rect x="176.00" y="97.75" width="16.60" height="16.89" fill="#a65783"/>
<rect x="192.00" y="97.75" width="16.60" height="16.89" fill="#a65783"/>
<rect x="-16.00" y="114.04" width="16.60" height="16.89" fill="#fab137"/>
<rect x="0.00" y="114.04" width="16.60" height="16.89" fill="#fab137"/>
<rect x="16.00" y="114.04" width="16.60" height="16.89" fill="#faad37"/>
<rect x="32.00" y="114.04" width="16.60" height="16.89" fill="#f9a338"/>
<rect x="48.00" y="114.04" width="16.60" height="16.89" fill="#ef824d"/>
<rect x="64.00" y="114.04" width="16.60" height="16.89" fill="#a65783"/>
<rect x="80.00" y="114.04" width="16.60" height="16.89" fill="#8f518d"/>
<rect x="96.00" y="114.04" width="16.60" height="16.89" fill="#834e92"/>
<rect x="112.00" y="114.04" width="16.60" height="16.89" fill="#784b96"/>
<rect x="128.00" y="114.04" width="16.60" height="16.89" fill="#784b96"/>
<rect x="144.00" y="114.04" width="16.60" height="16.89" fill="#784b96"/>
<rect x="160.00" y="114.04" width="16.60" height="16.89" fill="#834e92"/>
<rect x="176.00" y="114.04" width="16.60" height="16.89" fill="#834e92"/>
<rect x="192.00" y="114.04" width="16.60" height="16.89" fill="#834e92"/>
<rect x="-16.00" y="130.33" width="16.60" height="16.89" fill="#faa837"/>
<rect x="0.00" y="130.33" width="16.60" height="16.89" fill="#faa837"/>
<rect x="16.00" y="130.33" width="16.60" height="16.89" fill="#f59541"/>
<rect x="32.00" y="130.33" width="16.60" height="16.89" fill="#c06075"/>
<rect x="48.00" y="130.33" width="16.60" height="16.89" fill="#8f518d"/>
<rect x="64.00" y="130.33" width="16.60" height="16.89" fill="#834e92"/>
<rect x="80.00" y="130.33" width="16.60" height="16.89" fill="#834e92"/>
<rect x="96.00" y="130.33" width="16.60" height="16.89" fill="#784b96"/>
<rect x="112.00" y="130.33" width="16.60" height="16.89" fill="#6d4798"/>
<rect x="128.00" y="130.33" width="16.60" height="16.89" fill="#6d4798"/>
<rect x="144.00" y="130.33" width="16.60" height="16.89" fill="#63439b"/>
<rect x="160.00" y="130.33" width="16.60" height="16.89" fill="#6d4798"/>
<rect x="176.00" y="130.33" width="16.60" height="16.89" fill="#6d4798"/>
<rect x="192.00" y="130.33" width="16.60" height="16.89" fill="#6d4798"/>
<rect x="-16.00" y="146.62" width="16.60" height="16.89" fill="#d66b65"/>
<rect x="0.00" y="146.62" width="16.60" height="16.89" fill="#d66b65"/>
<rect x="16.00" y="146.62" width="16.60" height="16.89" fill="#a65783"/>
<rect x="32.00" y="146.62" width="16.60" height="16.89" fill="#9a5489"/>
<rect x="48.00" y="146.62" width="16.60" height="16.89" fill="#9a5489"/>
<rect x="64.00" y="146.62" width="16.60" height="16.89" fill="#784b96"/>
<rect x="80.00" y="146.62" width="16.60" height="16.89" fill="#6d4798"/>
<rect x="96.00" y="146.62" width="16.60" height="16.89" fill="#63439b"/>
<rect x="112.00" y="146.62" width="16.60" height="16.89" fill="#4d3ba0"/>
<rect x="128.00" y="146.62" width="16.60" height="16.89" fill="#2b3498"/>
<rect x="144.00" y="146.62" width="16.60" height="16.89" fill="#213291"/>
<rect x="160.00" y="146.62" width="16.60" height="16.89" fill="#36369b"/>
<rect x="176.00" y="146.62" width="16.60" height="16.89" fill="#4d3ba0"/>
<rect x="192.00" y="146.62" width="16.60" height="16.89" fill="#4d3ba0"/>
<rect x="-16.00" y="162.92" width="16.60" height="16.89" fill="#9a5489"/>
<rect x="0.00" y="162.92" width="16.60" height="16.89" fill="#9a5489"/>
<rect x="16.00" y="162.92" width="16.60" height="16.89" fill="#9a5489"/>
<rect x="32.00" y="162.92" width="16.60" height="16.89" fill="#8f518d"/>
<rect x="48.00" y="162.92" width="16.60" height="16.89" fill="#8f518d"/>
<rect x="64.00" y="162.92" width="16.60" height="16.89" fill="#6d4798"/>
<rect x="80.00" y="162.92" width="16.60" height="16.89" fill="#63439b"/>
<rect x="96.00" y="162.92" width="16.60" height="16.89" fill="#36369b"/>
<rect x="112.00" y="162.92" width="16.60" height="16.89" fill="#0a2a52"/>
<rect x="128.00" y="162.92" width="16.60" height="16.89" fill="#0d2d62"/>
<rect x="144.00" y="162.92" width="16.60" height="16.89" fill="#2b3498"/>
<rect x="160.00" y="162.92" width="16.60" height="16.89" fill="#42389e"/>
<rect x="176.00" y="162.92" width="16.60" height="16.89" fill="#4d3ba0"/>
<rect x="192.00" y="162.92" width="16.60" height="16.89" fill="#4d3ba0"/>
<rect x="-16.00" y="179.21" width="16.60" height="16.89" fill="#834e92"/>
<rect x="0.00" y="179.21" width="16.60" height="16.89" fill="#834e92"/>
<rect x="16.00" y="179.21" width="16.60" height="16.89" fill="#784b96"/>
<rect x="32.00" y="179.21" width="16.60" height="16.89" fill="#6d4798"/>
<rect x="48.00" y="179.21" width="16.60" height="16.89" fill="#6d4798"/>
<rect x="64.00" y="179.21" width="16.60" height="16.89" fill="#63439b"/>
<rect x="80.00" y="179.21" width="16.60" height="16.89" fill="#4d3ba0"/>
<rect x="96.00" y="179.21" width="16.60" height="16.89" fill="#1a3082"/>
<rect x="112.00" y="179.21" width="16.60" height="16.89" fill="#042333"/>
<rect x="128.00" y="179.21" width="16.60" height="16.89" fill="#042333"/>
<rect x="144.00" y="179.21" width="16.60" height="16.89" fill="#1a3082"/>
<rect x="160.00" y="179.21" width="16.60" height="16.89" fill="#42389e"/>
<rect x="176.00" y="179.21" width="16.60" height="16.89" fill="#4d3ba0"/>
<rect x="192.00" y="179.21" width="16.60" height="16.89" fill="#4d3ba0"/>
<rect x="-16.00" y="195.50" width="16.60" height="16.89" fill="#834e92"/>
<rect x="0.00" y="195.50" width="16.60" height="16.89" fill="#834e92"/>
<rect x="16.00" y="195.50" width="16.60" height="16.89" fill="#784b96"/>
<rect x="32.00" y="195.50" width="16.60" height="16.89" fill="#6d4798"/>
<rect x="48.00" y="195.50" width="16.60" height="16.89" fill="#6d4798"/>
<rect x="64.00" y="195.50" width="16.60" height="16.89" fill="#63439b"/>
<rect x="80.00" y="195.50" width="16.60" height="16.89" fill="#4d3ba0"/>
<rect x="96.00" y="195.50" width="16.60" height="16.89" fill="#1a3082"/>
<rect x="112.00" y="195.50" width="16.60" height="16.89" fill="#042333"/>
<rect x="128.00" y="195.50" width="16.60" height="16.89" fill="#042333"/>
<rect x="144.00" y="195.50" width="16.60" height="16.89" fill="#1a3082"/>
<rect x="160.00" y="195.50" width="16.60" height="16.89" fill="#42389e"/>
<rect x="176.00" y="195.50" width="16.60" height="16.89" fill="#4d3ba0"/>
<rect x="192.00" y="195.50" width="16.60" height="16.89" fill="#4d3ba0"/>
</g><filter id="cld" x="-5%" y="-5%" width="110%" height="110%"><feGaussianBlur stdDeviation="0.6"/></filter>
<filter id="spd1" filterUnits="userSpaceOnUse" x="0" y="0" width="192" height="196" color-interpolation-filters="sRGB"><feTurbulence type="fractalNoise" baseFrequency="0.22" numOctaves="3" seed="7" result="n0"/><feColorMatrix in="n0" type="matrix" values="0 0 0 0 1 0 0 0 0 1 0 0 0 0 1 1 0 0 0 0" result="n"/><feGaussianBlur in="SourceGraphic" stdDeviation="2.5" result="m"/><feComposite in="n" in2="m" operator="arithmetic" k1="0" k2="1" k3="1" k4="-1" result="s"/><feComponentTransfer in="s" result="t"><feFuncA type="linear" slope="8.0" intercept="-4.750"/></feComponentTransfer><feColorMatrix in="t" type="matrix" values="0 0 0 0 0.97 0 0 0 0 0.94 0 0 0 0 0.94 0 0 0 1 0" result="w"/><feGaussianBlur in="w" stdDeviation="0.45"/></filter>
<filter id="spd2" filterUnits="userSpaceOnUse" x="0" y="0" width="192" height="196" color-interpolation-filters="sRGB"><feTurbulence type="fractalNoise" baseFrequency="0.22" numOctaves="3" seed="7" result="n0"/><feColorMatrix in="n0" type="matrix" values="0 0 0 0 1 0 0 0 0 1 0 0 0 0 1 1 0 0 0 0" result="n"/><feGaussianBlur in="SourceGraphic" stdDeviation="2.5" result="m"/><feComposite in="n" in2="m" operator="arithmetic" k1="0" k2="1" k3="1" k4="-1" result="s"/><feComponentTransfer in="s" result="t"><feFuncA type="linear" slope="8.0" intercept="-4.500"/></feComponentTransfer><feColorMatrix in="t" type="matrix" values="0 0 0 0 0.97 0 0 0 0 0.94 0 0 0 0 0.94 0 0 0 1 0" result="w"/><feGaussianBlur in="w" stdDeviation="0.45"/></filter>
<filter id="spd3" filterUnits="userSpaceOnUse" x="0" y="0" width="192" height="196" color-interpolation-filters="sRGB"><feTurbulence type="fractalNoise" baseFrequency="0.22" numOctaves="3" seed="7" result="n0"/><feColorMatrix in="n0" type="matrix" values="0 0 0 0 1 0 0 0 0 1 0 0 0 0 1 1 0 0 0 0" result="n"/><feGaussianBlur in="SourceGraphic" stdDeviation="2.5" result="m"/><feComposite in="n" in2="m" operator="arithmetic" k1="0" k2="1" k3="1" k4="-1" result="s"/><feComponentTransfer in="s" result="t"><feFuncA type="linear" slope="8.0" intercept="-4.250"/></feComponentTransfer><feColorMatrix in="t" type="matrix" values="0 0 0 0 0.97 0 0 0 0 0.94 0 0 0 0 0.94 0 0 0 1 0" result="w"/><feGaussianBlur in="w" stdDeviation="0.45"/></filter>
<filter id="spd4" filterUnits="userSpaceOnUse" x="0" y="0" width="192" height="196" color-interpolation-filters="sRGB"><feTurbulence type="fractalNoise" baseFrequency="0.22" numOctaves="3" seed="7" result="n0"/><feColorMatrix in="n0" type="matrix" values="0 0 0 0 1 0 0 0 0 1 0 0 0 0 1 1 0 0 0 0" result="n"/><feGaussianBlur in="SourceGraphic" stdDeviation="2.5" result="m"/><feComposite in="n" in2="m" operator="arithmetic" k1="0" k2="1" k3="1" k4="-1" result="s"/><feComponentTransfer in="s" result="t"><feFuncA type="linear" slope="8.0" intercept="-4.000"/></feComponentTransfer><feColorMatrix in="t" type="matrix" values="0 0 0 0 0.97 0 0 0 0 0.94 0 0 0 0 0.94 0 0 0 1 0" result="w"/><feGaussianBlur in="w" stdDeviation="0.45"/></filter>
<filter id="spd5" filterUnits="userSpaceOnUse" x="0" y="0" width="192" height="196" color-interpolation-filters="sRGB"><feTurbulence type="fractalNoise" baseFrequency="0.22" numOctaves="3" seed="7" result="n0"/><feColorMatrix in="n0" type="matrix" values="0 0 0 0 1 0 0 0 0 1 0 0 0 0 1 1 0 0 0 0" result="n"/><feGaussianBlur in="SourceGraphic" stdDeviation="2.5" result="m"/><feComposite in="n" in2="m" operator="arithmetic" k1="0" k2="1" k3="1" k4="-1" result="s"/><feComponentTransfer in="s" result="t"><feFuncA type="linear" slope="8.0" intercept="-3.750"/></feComponentTransfer><feColorMatrix in="t" type="matrix" values="0 0 0 0 0.97 0 0 0 0 0.94 0 0 0 0 0.94 0 0 0 1 0" result="w"/><feGaussianBlur in="w" stdDeviation="0.45"/></filter>
<filter id="spd6" filterUnits="userSpaceOnUse" x="0" y="0" width="192" height="196" color-interpolation-filters="sRGB"><feTurbulence type="fractalNoise" baseFrequency="0.22" numOctaves="3" seed="7" result="n0"/><feColorMatrix in="n0" type="matrix" values="0 0 0 0 1 0 0 0 0 1 0 0 0 0 1 1 0 0 0 0" result="n"/><feGaussianBlur in="SourceGraphic" stdDeviation="2.5" result="m"/><feComposite in="n" in2="m" operator="arithmetic" k1="0" k2="1" k3="1" k4="-1" result="s"/><feComponentTransfer in="s" result="t"><feFuncA type="linear" slope="8.0" intercept="-3.500"/></feComponentTransfer><feColorMatrix in="t" type="matrix" values="0 0 0 0 0.97 0 0 0 0 0.94 0 0 0 0 0.94 0 0 0 1 0" result="w"/><feGaussianBlur in="w" stdDeviation="0.45"/></filter>
<filter id="spd7" filterUnits="userSpaceOnUse" x="0" y="0" width="192" height="196" color-interpolation-filters="sRGB"><feTurbulence type="fractalNoise" baseFrequency="0.22" numOctaves="3" seed="7" result="n0"/><feColorMatrix in="n0" type="matrix" values="0 0 0 0 1 0 0 0 0 1 0 0 0 0 1 1 0 0 0 0" result="n"/><feGaussianBlur in="SourceGraphic" stdDeviation="2.5" result="m"/><feComposite in="n" in2="m" operator="arithmetic" k1="0" k2="1" k3="1" k4="-1" result="s"/><feComponentTransfer in="s" result="t"><feFuncA type="linear" slope="8.0" intercept="-3.250"/></feComponentTransfer><feColorMatrix in="t" type="matrix" values="0 0 0 0 0.97 0 0 0 0 0.94 0 0 0 0 0.94 0 0 0 1 0" result="w"/><feGaussianBlur in="w" stdDeviation="0.45"/></filter>
<filter id="spd8" filterUnits="userSpaceOnUse" x="0" y="0" width="192" height="196" color-interpolation-filters="sRGB"><feTurbulence type="fractalNoise" baseFrequency="0.22" numOctaves="3" seed="7" result="n0"/><feColorMatrix in="n0" type="matrix" values="0 0 0 0 1 0 0 0 0 1 0 0 0 0 1 1 0 0 0 0" result="n"/><feGaussianBlur in="SourceGraphic" stdDeviation="2.5" result="m"/><feComposite in="n" in2="m" operator="arithmetic" k1="0" k2="1" k3="1" k4="-1" result="s"/><feComponentTransfer in="s" result="t"><feFuncA type="linear" slope="8.0" intercept="-3.000"/></feComponentTransfer><feColorMatrix in="t" type="matrix" values="0 0 0 0 0.97 0 0 0 0 0.94 0 0 0 0 0.94 0 0 0 1 0" result="w"/><feGaussianBlur in="w" stdDeviation="0.45"/></filter>
<filter id="spd9" filterUnits="userSpaceOnUse" x="0" y="0" width="192" height="196" color-interpolation-filters="sRGB"><feTurbulence type="fractalNoise" baseFrequency="0.22" numOctaves="3" seed="7" result="n0"/><feColorMatrix in="n0" type="matrix" values="0 0 0 0 1 0 0 0 0 1 0 0 0 0 1 1 0 0 0 0" result="n"/><feGaussianBlur in="SourceGraphic" stdDeviation="2.5" result="m"/><feComposite in="n" in2="m" operator="arithmetic" k1="0" k2="1" k3="1" k4="-1" result="s"/><feComponentTransfer in="s" result="t"><feFuncA type="linear" slope="8.0" intercept="-2.750"/></feComponentTransfer><feColorMatrix in="t" type="matrix" values="0 0 0 0 0.97 0 0 0 0 0.94 0 0 0 0 0.94 0 0 0 1 0" result="w"/><feGaussianBlur in="w" stdDeviation="0.45"/></filter>
<filter id="spd10" filterUnits="userSpaceOnUse" x="0" y="0" width="192" height="196" color-interpolation-filters="sRGB"><feTurbulence type="fractalNoise" baseFrequency="0.22" numOctaves="3" seed="7" result="n0"/><feColorMatrix in="n0" type="matrix" values="0 0 0 0 1 0 0 0 0 1 0 0 0 0 1 1 0 0 0 0" result="n"/><feGaussianBlur in="SourceGraphic" stdDeviation="2.5" result="m"/><feComposite in="n" in2="m" operator="arithmetic" k1="0" k2="1" k3="1" k4="-1" result="s"/><feComponentTransfer in="s" result="t"><feFuncA type="linear" slope="8.0" intercept="-2.500"/></feComponentTransfer><feColorMatrix in="t" type="matrix" values="0 0 0 0 0.97 0 0 0 0 0.94 0 0 0 0 0.94 0 0 0 1 0" result="w"/><feGaussianBlur in="w" stdDeviation="0.45"/></filter>
<filter id="hzd" x="-20%" y="-20%" width="140%" height="140%"><feGaussianBlur stdDeviation="4"/></filter>
<filter id="hzdf" x="-20%" y="-20%" width="140%" height="140%"><feGaussianBlur stdDeviation="1.5"/></filter>
<filter id="hzd" x="-20%" y="-20%" width="140%" height="140%"><feGaussianBlur stdDeviation="4"/></filter>
<polyline points="112,3 118,10 124,19.7 139,24.6 143.9,34 139,49.3 141.4,56.7 146.3,64 151.3,73.9 158.6,78.8 168.5,83.7 175.9,86.2 183.3,93.6 187,101 192,108" fill="none" stroke="#c06a80" stroke-width="2" stroke-linejoin="round" filter="url(#hzdf)"/>
<g filter="url(#spd8)" opacity="0.95"><polygon points="108,-3 160,-3 163,10 163,30 150,40 140,34 130,24 120,18 110,8" fill="#fff"/></g>
<polygon points="120,4 128,3 136,6 144,8 150,5 156,7 160,12 161,24 160,34 150,36 144,33 140,26 132,21 125,17 121,10" fill="#fff" fill-opacity="0.95" filter="url(#cld)"/>
<g filter="url(#spd9)" opacity="0.97"><polygon points="139.7,40.8 150.2,35.5 160.5,35.5 171.1,35.5 176.3,27.8 184.2,19.9 193.4,14.6 197.6,14.4 197.6,115.1 193.4,110.9 188.1,103.4 184.2,95.6 176.3,87.8 168.5,85.1 158.0,79.9 150.2,74.7 144.9,64.2 139.7,56.5 137.2,48.6" fill="#fff"/></g>
<polygon points="144,42 152,39 161,39 171,39 177,31 184,24 192,20 192,104 188,99 183,91 176,84 168,81 159,76 153,71 148,62 143,55 141.5,49" fill="#fff" fill-opacity="0.97" filter="url(#cld)"/>
<polygon points="178.4,7.4 190.7,4.9 192,14.8 180.8,14.8" fill="#fff" fill-opacity="0.95" filter="url(#cld)"/>
<polygon points="142,30 150,28 161,22 163,30 162,41 150,42 143,42" fill="#fff" fill-opacity="0.95" filter="url(#cld)"/>
<polygon points="186,57 192,56 192,66 187,65" fill="#5a44a0" filter="url(#hzdf)"/>
<polyline points="56,17 50,27 44,33 36,38 34,44" fill="none" stroke="#fff" stroke-width="2" stroke-opacity="0.75" filter="url(#cld)"/>
<g filter="url(#spd7)" opacity="0.9"><polygon points="-3,66 14,64 22,74 20,90 12,100 -3,100" fill="#fff"/></g>
<g filter="url(#spd7)" opacity="0.9"><polygon points="54,94 62,94 62,104 54,104" fill="#fff"/></g><line x1="16.5" y1="0" x2="16.5" y2="195.5" stroke="#000" stroke-opacity="0.27" stroke-width="0.8"/>
<line x1="64.5" y1="0" x2="64.5" y2="195.5" stroke="#000" stroke-opacity="0.27" stroke-width="0.8"/>
<line x1="112.5" y1="0" x2="112.5" y2="195.5" stroke="#000" stroke-opacity="0.27" stroke-width="0.8"/>
<line x1="160.5" y1="0" x2="160.5" y2="195.5" stroke="#000" stroke-opacity="0.27" stroke-width="0.8"/>
<line x1="0" y1="49.4" x2="192.0" y2="49.4" stroke="#000" stroke-opacity="0.27" stroke-width="0.8"/>
<line x1="0" y1="98.4" x2="192.0" y2="98.4" stroke="#000" stroke-opacity="0.27" stroke-width="0.8"/>
<line x1="0" y1="147.4" x2="192.0" y2="147.4" stroke="#000" stroke-opacity="0.27" stroke-width="0.8"/>
<polyline points="0,3.6 27,20 87,56.4 142,92.3 192,124.6" fill="none" stroke="#fff" stroke-width="1"/>
<polyline points="60.3,195.5 45.4,65.5 100.4,65.5" fill="none" stroke="#fff" stroke-width="1"/>
<rect x="0.4" y="0.4" width="191.2" height="194.7" fill="none" stroke="#222" stroke-width="0.8"/></svg>

<div class="ts" style="left:39.5px;top:22.6px">2023-06-27 10:10:00 UTC</div>
<div class="ts" style="left:264.5px;top:22.6px">2023-06-27 10:10:00 UTC</div>
<div class="ts" style="left:39.5px;top:245.6px">2023-06-27 10:15:00 UTC</div>
<div class="ts" style="left:264.5px;top:245.6px">2023-06-27 10:15:00 UTC</div>

<!-- inset map -->
<svg style="position:absolute;left:402px;top:16.5px" width="48" height="49" viewBox="0 0 48 49">
<rect x="0" y="0" width="48" height="49" fill="#1f77b4"/>
<g fill="#8f5647" stroke="#3a2420" stroke-width="0.35" stroke-linejoin="round">
<polygon points="19.9,0 19.9,0.7 21.5,2.5 22.8,4.5 23.5,7.6 13.6,8.4 13.2,11.5 13.6,14.5 15.5,17.8 17.5,18.6 20,18 23,17 25.8,15 27.2,12 27.8,9.5 29,8.2 31,7.4 33.5,7.2 35.2,8.2 36.5,10 38.5,12.3 40.8,14.6 42.8,16.2 44.2,15.4 43.2,13.4 41.5,11 40.2,8.6 40.8,7.4 42.5,8.5 44.5,10 46.5,11.3 48,12.3 48,0"/>
<polygon points="48,22.3 45,22.8 42,23.6 39,22.6 36.5,21 35.2,18.6 33.8,18.2 31,19 27,19.4 22,19.8 18,20 15.5,21 12.1,22.3 9.5,24.6 7.4,28.8 5.3,33 4.25,35 4.25,39.2 4.25,42.3 3.2,45.5 4.25,48.6 4.25,49 48,49"/>
<polygon points="30.4,9.6 31.4,9.4 31.6,12.4 30.6,12.8"/><polygon points="30.8,7.8 31.5,7.7 31.5,9 30.9,9"/>
<polygon points="36.2,15.6 39,15.2 38.4,16.6 36.6,16.6"/>
</g>
<g fill="none" stroke="#3a2420" stroke-width="0.35" stroke-linejoin="round">
<polyline points="9.5,25.1 12.6,25.7 15.7,23.6 19.9,21.5 20.5,19"/>
<polyline points="9,26.5 13.5,26.5 13.5,29 15.5,29 15.5,33 22,38 25,35 29.2,31.9 33.5,29.5 35.5,26.7 35.5,21.5 34.5,18"/>
<polyline points="7.5,29 13.5,29"/>
<polyline points="4.3,40.5 8.4,42.3 12,41.5 16.75,40.25 21,41.3 23,40.5 26,38.5 29.2,37.1 33.4,36.1 37.6,33 41.75,31.9 44,33 48,34"/>
<polyline points="15.5,33 16.5,40.3"/>
<polyline points="35.5,26.7 40.5,29 44,27.5 48,28"/>
<polyline points="40.5,29 41.75,31.9 41.5,37 43.8,39.2 48,38"/>
<polyline points="29.2,37.1 31,41 30,46 32,49"/>
<polyline points="21,41.3 20,45 22,49"/>
<polyline points="4.3,43.5 9,44.5 12,47 11,49"/>
</g>
<rect x="14.2" y="28.2" width="7.8" height="7.8" fill="none" stroke="#e8e8e8" stroke-width="0.9"/>
</svg>

<!-- colorbar b -->
<div class="cb" style="top:45.8px;height:137.5px;background:linear-gradient(to bottom,#042333 0.0%,#072641 2.5%,#09294e 5.0%,#0b2c5c 7.5%,#112e6a 10.0%,#162f78 12.5%,#1c3085 15.0%,#223293 17.5%,#2b3498 20.0%,#35369a 22.5%,#3f389d 25.0%,#493aa0 27.5%,#523d9e 30.0%,#5c409c 32.5%,#65449a 35.0%,#6f4798 37.5%,#784b96 40.0%,#824e92 42.5%,#8c508e 45.0%,#96528b 47.5%,#a05587 50.0%,#ab5981 52.5%,#b75d7a 55.0%,#c26074 57.5%,#cd646e 60.0%,#d56a66 62.5%,#de715f 65.0%,#e67757 67.5%,#ee7d50 70.0%,#f0854b 72.5%,#f38e46 75.0%,#f69640 77.5%,#f89e3b 80.0%,#faa737 82.5%,#faaf37 85.0%,#fab737 87.5%,#fac037 90.0%,#f7cc3d 92.5%,#f2db47 95.0%,#edeb51 97.5%,#e8fa5b 100.0%)"></div>
<div class="tk" style="top:182.9px"></div><div class="ct" style="top:179.3px">10</div>
<div class="tk" style="top:157.6px"></div><div class="ct" style="top:154px">15</div>
<div class="tk" style="top:132.3px"></div><div class="ct" style="top:128.7px">20</div>
<div class="tk" style="top:106.9px"></div><div class="ct" style="top:103.3px">25</div>
<div class="tk" style="top:81.6px"></div><div class="ct" style="top:78px">30</div>
<div class="tk" style="top:56.3px"></div><div class="ct" style="top:52.7px">35</div>
<div class="cbl" style="left:491px;top:114.5px">TCWV [kg/m<sup style="font-size:5.5px;vertical-align:3px;line-height:0">2</sup>]</div>
<!-- colorbar d -->
<div class="cb" style="top:268.3px;height:137px;background:linear-gradient(to bottom,#042333 0.0%,#072641 2.5%,#09294f 5.0%,#0b2c5c 7.5%,#112e6a 10.0%,#162f78 12.5%,#1c3086 15.0%,#223293 17.5%,#2b3498 20.0%,#35369a 22.5%,#3f389d 25.0%,#493aa0 27.5%,#523d9e 30.0%,#5c409c 32.5%,#65449a 35.0%,#6f4798 37.5%,#784b96 40.0%,#824e92 42.5%,#8c508e 45.0%,#96528b 47.5%,#a05587 50.0%,#ab5981 52.5%,#b75d7a 55.0%,#c26074 57.5%,#cd646e 60.0%,#d56a66 62.5%,#de715f 65.0%,#e67757 67.5%,#ee7d50 70.0%,#f0854b 72.5%,#f38e46 75.0%,#f69640 77.5%,#f89e3b 80.0%,#faa737 82.5%,#faaf37 85.0%,#fab737 87.5%,#fac037 90.0%,#f7cc3d 92.5%,#f2db47 95.0%,#edeb51 97.5%,#e8fa5b 100.0%)"></div>
<div class="tk" style="top:404.9px"></div><div class="ct" style="top:401.3px">15</div>
<div class="tk" style="top:385.4px"></div><div class="ct" style="top:381.8px">20</div>
<div class="tk" style="top:365.8px"></div><div class="ct" style="top:362.2px">25</div>
<div class="tk" style="top:346.3px"></div><div class="ct" style="top:342.7px">30</div>
<div class="tk" style="top:326.7px"></div><div class="ct" style="top:323.1px">35</div>
<div class="tk" style="top:307.2px"></div><div class="ct" style="top:303.6px">40</div>
<div class="tk" style="top:287.6px"></div><div class="ct" style="top:284px">45</div>
<div class="tk" style="top:268.1px"></div><div class="ct" style="top:264.5px">50</div>
<div class="cbl" style="left:491px;top:336.8px">TCWV [kg/m<sup style="font-size:5.5px;vertical-align:3px;line-height:0">2</sup>]</div>
</body></html>
